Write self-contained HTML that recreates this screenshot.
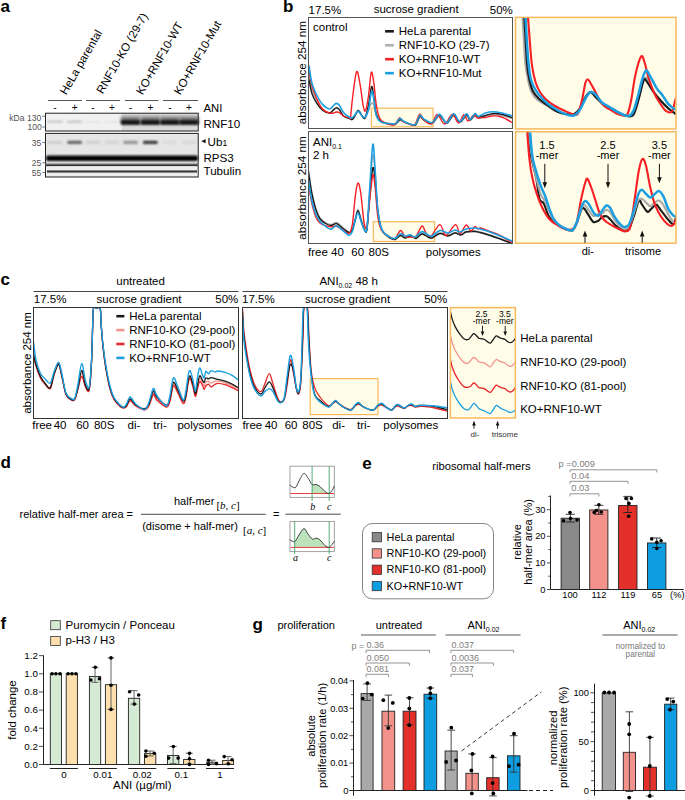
<!DOCTYPE html>
<html><head><meta charset="utf-8"><style>
html,body{margin:0;padding:0;background:#fff;width:685px;height:800px;overflow:hidden}
svg{display:block;font-family:"Liberation Sans",sans-serif}
</style></head><body>
<svg width="685" height="800" viewBox="0 0 685 800">
<text x="0.5" y="12.3" font-size="17" text-anchor="start" fill="#000" font-weight="bold" font-family="Liberation Sans" >a</text>
<text x="0" y="0" font-size="11.5" text-anchor="start" fill="#000" font-weight="normal" font-family="Liberation Sans" transform="translate(66.3,95.4) rotate(-60)">HeLa parental</text>
<text x="0" y="0" font-size="11.5" text-anchor="start" fill="#000" font-weight="normal" font-family="Liberation Sans" transform="translate(102.8,94.4) rotate(-60)">RNF10-KO (29-7)</text>
<text x="0" y="0" font-size="11.5" text-anchor="start" fill="#000" font-weight="normal" font-family="Liberation Sans" transform="translate(142.6,95.4) rotate(-60)">KO+RNF10-WT</text>
<text x="0" y="0" font-size="11.5" text-anchor="start" fill="#000" font-weight="normal" font-family="Liberation Sans" transform="translate(180.3,95.4) rotate(-60)">KO+RNF10-Mut</text>
<line x1="48" y1="100.5" x2="82" y2="100.5" stroke="#555" stroke-width="1" />
<line x1="86" y1="100.5" x2="120" y2="100.5" stroke="#555" stroke-width="1" />
<line x1="125" y1="100.5" x2="158.5" y2="100.5" stroke="#555" stroke-width="1" />
<line x1="163" y1="100.5" x2="198" y2="100.5" stroke="#555" stroke-width="1" />
<text x="55" y="110.5" font-size="10" text-anchor="middle" fill="#000" font-weight="normal" font-family="Liberation Sans" >-</text>
<text x="74.6" y="110.5" font-size="10" text-anchor="middle" fill="#000" font-weight="normal" font-family="Liberation Sans" >+</text>
<text x="93" y="110.5" font-size="10" text-anchor="middle" fill="#000" font-weight="normal" font-family="Liberation Sans" >-</text>
<text x="112" y="110.5" font-size="10" text-anchor="middle" fill="#000" font-weight="normal" font-family="Liberation Sans" >+</text>
<text x="130.5" y="110.5" font-size="10" text-anchor="middle" fill="#000" font-weight="normal" font-family="Liberation Sans" >-</text>
<text x="150.4" y="110.5" font-size="10" text-anchor="middle" fill="#000" font-weight="normal" font-family="Liberation Sans" >+</text>
<text x="170" y="110.5" font-size="10" text-anchor="middle" fill="#000" font-weight="normal" font-family="Liberation Sans" >-</text>
<text x="189" y="110.5" font-size="10" text-anchor="middle" fill="#000" font-weight="normal" font-family="Liberation Sans" >+</text>
<text x="203.5" y="112.4" font-size="11.3" text-anchor="start" fill="#000" font-weight="normal" font-family="Liberation Sans" >ANI</text>
<defs><filter id="bl" x="-20%" y="-50%" width="140%" height="200%"><feGaussianBlur stdDeviation="0.9"/></filter><filter id="bl2" x="-20%" y="-50%" width="140%" height="200%"><feGaussianBlur stdDeviation="1.6"/></filter><filter id="bl3" x="-20%" y="-80%" width="140%" height="260%"><feGaussianBlur stdDeviation="0.6"/></filter></defs>
<rect x="45.5" y="113.2" width="152.7" height="17.8" fill="#f1f1f1" stroke="none" stroke-width="1" />
<rect x="122" y="113.2" width="76" height="17.8" fill="#d9d9d9" stroke="none" stroke-width="1" />
<rect x="47.5" y="120.5" width="15" height="2.5" fill="#c8c8c8" filter="url(#bl)"/>
<rect x="67.1" y="120.5" width="15" height="2.5" fill="#c8c8c8" filter="url(#bl)"/>
<rect x="85.5" y="121" width="15" height="2" fill="#e4e4e4" filter="url(#bl)"/>
<rect x="104.5" y="121" width="15" height="2" fill="#e4e4e4" filter="url(#bl)"/>
<rect x="120.8" y="116.5" width="19.4" height="5.5" fill="#7a7a7a" filter="url(#bl2)"/>
<rect x="120.8" y="120.2" width="19.4" height="4.6" rx="1" fill="#080808" filter="url(#bl)"/>
<rect x="140.70000000000002" y="116.5" width="19.4" height="5.5" fill="#7a7a7a" filter="url(#bl2)"/>
<rect x="140.70000000000002" y="120.2" width="19.4" height="4.6" rx="1" fill="#080808" filter="url(#bl)"/>
<rect x="160.3" y="116.5" width="19.4" height="5.5" fill="#7a7a7a" filter="url(#bl2)"/>
<rect x="160.3" y="120.2" width="19.4" height="4.6" rx="1" fill="#080808" filter="url(#bl)"/>
<rect x="179.3" y="116.5" width="19.4" height="5.5" fill="#7a7a7a" filter="url(#bl2)"/>
<rect x="179.3" y="120.2" width="19.4" height="4.6" rx="1" fill="#080808" filter="url(#bl)"/>
<rect x="45.5" y="113.2" width="152.7" height="17.8" fill="none" stroke="#222" stroke-width="1" />
<rect x="45.5" y="133.4" width="152.7" height="30.8" fill="#e6e6e6" stroke="none" stroke-width="1" />
<rect x="47.5" y="140.8" width="15" height="3.2" rx="1.5" fill="#cdcdcd" filter="url(#bl)"/>
<rect x="67.1" y="140.8" width="15" height="3.2" rx="1.5" fill="#666666" filter="url(#bl)"/>
<rect x="85.5" y="140.8" width="15" height="3.2" rx="1.5" fill="#d0d0d0" filter="url(#bl)"/>
<rect x="104.5" y="140.8" width="15" height="3.2" rx="1.5" fill="#d4d4d4" filter="url(#bl)"/>
<rect x="123.0" y="140.8" width="15" height="3.2" rx="1.5" fill="#959595" filter="url(#bl)"/>
<rect x="142.9" y="140.8" width="15" height="3.2" rx="1.5" fill="#383838" filter="url(#bl)"/>
<rect x="162.5" y="140.8" width="15" height="3.2" rx="1.5" fill="#dadada" filter="url(#bl)"/>
<rect x="181.5" y="140.8" width="15" height="3.2" rx="1.5" fill="#d8d8d8" filter="url(#bl)"/>
<rect x="46" y="155.5" width="152" height="5.6" rx="2" fill="#050505" filter="url(#bl)"/>
<rect x="45.5" y="133.4" width="152.7" height="30.8" fill="none" stroke="#222" stroke-width="1" />
<rect x="45.5" y="165.6" width="152.7" height="11.4" fill="#eeeeee" stroke="none" stroke-width="1" />
<rect x="47" y="170.4" width="150" height="2.2" fill="#3a3a3a" filter="url(#bl3)"/>
<rect x="45.5" y="165.6" width="152.7" height="11.4" fill="none" stroke="#222" stroke-width="1" />
<text x="9.3" y="120.6" font-size="8.6" text-anchor="start" fill="#555" font-weight="normal" font-family="Liberation Sans" >kDa 130</text>
<text x="41.8" y="129.6" font-size="8.6" text-anchor="end" fill="#555" font-weight="normal" font-family="Liberation Sans" >100</text>
<text x="41.3" y="145.5" font-size="8.6" text-anchor="end" fill="#555" font-weight="normal" font-family="Liberation Sans" >35</text>
<text x="41.3" y="165.9" font-size="8.6" text-anchor="end" fill="#555" font-weight="normal" font-family="Liberation Sans" >25</text>
<text x="41.3" y="175.6" font-size="8.6" text-anchor="end" fill="#555" font-weight="normal" font-family="Liberation Sans" >55</text>
<line x1="42.3" y1="116.2" x2="45.5" y2="116.2" stroke="#555" stroke-width="0.8" />
<line x1="42.3" y1="127" x2="45.5" y2="127" stroke="#555" stroke-width="0.8" />
<line x1="42.3" y1="142.5" x2="45.5" y2="142.5" stroke="#555" stroke-width="0.8" />
<line x1="42.3" y1="162.8" x2="45.5" y2="162.8" stroke="#555" stroke-width="0.8" />
<line x1="42.3" y1="172.5" x2="45.5" y2="172.5" stroke="#555" stroke-width="0.8" />
<text x="203.5" y="127.5" font-size="11.6" text-anchor="start" fill="#000" font-weight="normal" font-family="Liberation Sans" >RNF10</text>
<path d="M201.3,141.2 L205.6,139.1 L205.6,143.3 Z" fill="#111"/>
<text x="207.6" y="145.5" font-size="11.6" text-anchor="start" fill="#000" font-weight="normal" font-family="Liberation Sans" >Ub<tspan font-size="8.5">1</tspan></text>
<text x="203.5" y="161.5" font-size="11.6" text-anchor="start" fill="#000" font-weight="normal" font-family="Liberation Sans" >RPS3</text>
<text x="203.5" y="175.2" font-size="11.6" text-anchor="start" fill="#000" font-weight="normal" font-family="Liberation Sans" >Tubulin</text>
<text x="283" y="12.3" font-size="17" text-anchor="start" fill="#000" font-weight="bold" font-family="Liberation Sans" >b</text>
<text x="308.6" y="13.9" font-size="11.5" text-anchor="start" fill="#000" font-weight="normal" font-family="Liberation Sans" >17.5%</text>
<text x="458.7" y="13.3" font-size="11.5" text-anchor="end" fill="#000" font-weight="normal" font-family="Liberation Sans" >sucrose gradient</text>
<text x="512.8" y="13.9" font-size="11.5" text-anchor="end" fill="#000" font-weight="normal" font-family="Liberation Sans" >50%</text>
<text x="0" y="0" font-size="11.7" text-anchor="middle" fill="#000" font-weight="normal" font-family="Liberation Sans" transform="translate(305.9,72.7) rotate(-90)">absorbance 254 nm</text>
<text x="0" y="0" font-size="11.7" text-anchor="middle" fill="#000" font-weight="normal" font-family="Liberation Sans" transform="translate(305.9,188) rotate(-90)">absorbance 254 nm</text>
<rect x="515.5" y="17.4" width="160.5" height="111.5" fill="#fffde8" stroke="#f9b85c" stroke-width="1.5" />
<rect x="515.5" y="131.7" width="160.5" height="111.5" fill="#fffde8" stroke="#f9b85c" stroke-width="1.5" />
<rect x="371.4" y="108.2" width="61.7" height="18.6" fill="#fffde8" stroke="#f9b85c" stroke-width="1.2" />
<rect x="373.3" y="221.7" width="61.3" height="19.8" fill="#fffde8" stroke="#f9b85c" stroke-width="1.2" />
<defs><clipPath id="cbt"><rect x="308.6" y="17.4" width="203.8" height="111.2"/></clipPath></defs>
<g clip-path="url(#cbt)">
<path d="M309.00,75.00 C309.50,77.50 310.72,85.67 312.00,90.00 C313.28,94.33 314.95,97.83 316.70,101.00 C318.45,104.17 320.37,107.00 322.50,109.00 C324.63,111.00 327.75,112.75 329.50,113.00 C331.25,113.25 331.87,111.25 333.00,110.50 C334.13,109.75 335.22,108.58 336.30,108.50 C337.38,108.42 338.30,108.75 339.50,110.00 C340.70,111.25 341.85,114.57 343.50,116.00 C345.15,117.43 347.83,118.07 349.40,118.60 C350.97,119.13 351.45,120.38 352.90,119.20 C354.35,118.02 356.55,111.95 358.10,111.50 C359.65,111.05 361.03,115.33 362.20,116.50 C363.37,117.67 364.03,119.58 365.10,118.50 C366.17,117.42 367.52,112.58 368.60,110.00 C369.68,107.42 370.72,103.67 371.60,103.00 C372.48,102.33 373.13,104.00 373.90,106.00 C374.67,108.00 375.03,112.33 376.20,115.00 C377.37,117.67 378.60,120.42 380.90,122.00 C383.20,123.58 387.58,124.08 390.00,124.50 C392.42,124.92 393.73,125.17 395.40,124.50 C397.07,123.83 398.63,120.92 400.00,120.50 C401.37,120.08 401.63,121.25 403.60,122.00 C405.57,122.75 409.75,124.50 411.80,125.00 C413.85,125.50 414.53,126.25 415.90,125.00 C417.27,123.75 418.65,118.25 420.00,117.50 C421.35,116.75 421.97,119.50 424.00,120.50 C426.03,121.50 429.63,124.25 432.20,123.50 C434.77,122.75 437.02,116.00 439.40,116.00 C441.78,116.00 444.12,123.50 446.50,123.50 C448.88,123.50 451.48,116.17 453.70,116.00 C455.92,115.83 457.65,122.50 459.80,122.50 C461.95,122.50 464.90,116.33 466.60,116.00 C468.30,115.67 468.58,120.50 470.00,120.50 C471.42,120.50 473.73,116.42 475.10,116.00 C476.47,115.58 476.48,118.00 478.20,118.00 C479.92,118.00 482.85,116.58 485.40,116.00 C487.95,115.42 490.78,114.58 493.50,114.50 C496.22,114.42 498.62,114.83 501.70,115.50 C504.78,116.17 510.28,118.00 512.00,118.50" fill="none" stroke="#a9a9a9" stroke-width="1.4" stroke-linejoin="round" stroke-linecap="round" />
<path d="M309.00,79.90 C309.50,82.23 310.72,90.02 312.00,93.90 C313.28,97.78 314.95,100.48 316.70,103.20 C318.45,105.92 320.37,108.55 322.50,110.20 C324.63,111.85 327.75,113.10 329.50,113.10 C331.25,113.10 331.87,111.12 333.00,110.20 C334.13,109.28 335.22,107.70 336.30,107.60 C337.38,107.50 338.30,108.20 339.50,109.60 C340.70,111.00 341.85,114.53 343.50,116.00 C345.15,117.47 347.83,117.90 349.40,118.40 C350.97,118.90 351.45,120.32 352.90,119.00 C354.35,117.68 356.55,111.00 358.10,110.50 C359.65,110.00 361.03,114.78 362.20,116.00 C363.37,117.22 364.03,119.73 365.10,117.80 C366.17,115.87 367.52,109.60 368.60,104.40 C369.68,99.20 370.72,87.77 371.60,86.60 C372.48,85.43 373.13,92.88 373.90,97.40 C374.67,101.92 375.03,109.72 376.20,113.70 C377.37,117.68 378.60,119.58 380.90,121.30 C383.20,123.02 387.58,123.55 390.00,124.00 C392.42,124.45 393.73,124.75 395.40,124.00 C397.07,123.25 398.63,119.88 400.00,119.50 C401.37,119.12 401.63,120.82 403.60,121.70 C405.57,122.58 409.75,124.33 411.80,124.80 C413.85,125.27 414.53,125.88 415.90,124.50 C417.27,123.12 418.65,117.25 420.00,116.50 C421.35,115.75 421.97,118.88 424.00,120.00 C426.03,121.12 429.63,124.03 432.20,123.20 C434.77,122.37 437.02,115.03 439.40,115.00 C441.78,114.97 444.12,123.03 446.50,123.00 C448.88,122.97 451.48,114.97 453.70,114.80 C455.92,114.63 457.65,122.00 459.80,122.00 C461.95,122.00 464.90,115.13 466.60,114.80 C468.30,114.47 468.58,120.05 470.00,120.00 C471.42,119.95 473.73,115.00 475.10,114.50 C476.47,114.00 476.48,116.83 478.20,117.00 C479.92,117.17 482.85,116.08 485.40,115.50 C487.95,114.92 490.78,113.72 493.50,113.50 C496.22,113.28 498.62,113.53 501.70,114.20 C504.78,114.87 510.28,116.95 512.00,117.50" fill="none" stroke="#1a1a1a" stroke-width="1.4" stroke-linejoin="round" stroke-linecap="round" />
<path d="M309.00,70.50 C309.50,73.03 310.72,81.03 312.00,85.70 C313.28,90.37 314.95,94.62 316.70,98.50 C318.45,102.38 320.37,106.57 322.50,109.00 C324.63,111.43 327.75,112.42 329.50,113.10 C331.25,113.78 331.87,113.28 333.00,113.10 C334.13,112.92 335.22,112.08 336.30,112.00 C337.38,111.92 338.30,111.93 339.50,112.60 C340.70,113.27 341.85,115.13 343.50,116.00 C345.15,116.87 348.23,117.60 349.40,117.80 C350.57,118.00 349.92,121.00 350.50,117.20 C351.08,113.40 351.88,102.58 352.90,95.00 C353.92,87.42 355.43,73.63 356.60,71.70 C357.77,69.77 358.77,77.57 359.90,83.40 C361.03,89.23 362.43,102.23 363.40,106.70 C364.37,111.17 364.83,112.15 365.70,110.20 C366.57,108.25 367.67,101.32 368.60,95.00 C369.53,88.68 370.42,74.23 371.30,72.30 C372.18,70.37 373.08,78.05 373.90,83.40 C374.72,88.75 375.23,98.57 376.20,104.40 C377.17,110.23 378.23,115.30 379.70,118.40 C381.17,121.50 383.28,121.98 385.00,123.00 C386.72,124.02 388.33,124.25 390.00,124.50 C391.67,124.75 393.42,125.60 395.00,124.50 C396.58,123.40 398.17,118.40 399.50,117.90 C400.83,117.40 401.08,120.38 403.00,121.50 C404.92,122.62 409.00,124.10 411.00,124.60 C413.00,125.10 413.57,126.20 415.00,124.50 C416.43,122.80 418.18,115.23 419.60,114.40 C421.02,113.57 421.52,117.90 423.50,119.50 C425.48,121.10 429.20,124.85 431.50,124.00 C433.80,123.15 435.13,114.40 437.30,114.40 C439.47,114.40 442.00,124.00 444.50,124.00 C447.00,124.00 449.97,114.57 452.30,114.40 C454.63,114.23 456.57,122.93 458.50,123.00 C460.43,123.07 462.32,115.13 463.90,114.80 C465.48,114.47 466.40,120.93 468.00,121.00 C469.60,121.07 471.83,115.70 473.50,115.20 C475.17,114.70 476.08,117.62 478.00,118.00 C479.92,118.38 482.67,117.83 485.00,117.50 C487.33,117.17 489.50,116.17 492.00,116.00 C494.50,115.83 497.67,116.00 500.00,116.50 C502.33,117.00 504.00,118.00 506.00,119.00 C508.00,120.00 511.00,121.92 512.00,122.50" fill="none" stroke="#f71e24" stroke-width="1.4" stroke-linejoin="round" stroke-linecap="round" />
<path d="M309.00,65.80 C309.50,68.73 310.72,78.53 312.00,83.40 C313.28,88.27 314.95,91.50 316.70,95.00 C318.45,98.50 320.37,102.07 322.50,104.40 C324.63,106.73 327.75,108.73 329.50,109.00 C331.25,109.27 331.87,106.93 333.00,106.00 C334.13,105.07 335.22,103.48 336.30,103.40 C337.38,103.32 338.30,103.97 339.50,105.50 C340.70,107.03 341.85,110.65 343.50,112.60 C345.15,114.55 347.83,116.43 349.40,117.20 C350.97,117.97 351.45,118.17 352.90,117.20 C354.35,116.23 356.55,111.60 358.10,111.40 C359.65,111.20 361.03,115.03 362.20,116.00 C363.37,116.97 364.03,118.37 365.10,117.20 C366.17,116.03 367.52,113.28 368.60,109.00 C369.68,104.72 370.72,93.05 371.60,91.50 C372.48,89.95 373.13,95.80 373.90,99.70 C374.67,103.60 375.03,111.20 376.20,114.90 C377.37,118.60 378.60,120.45 380.90,121.90 C383.20,123.35 387.58,123.32 390.00,123.60 C392.42,123.88 393.73,124.45 395.40,123.60 C397.07,122.75 398.63,118.90 400.00,118.50 C401.37,118.10 401.63,120.18 403.60,121.20 C405.57,122.22 409.75,124.13 411.80,124.60 C413.85,125.07 414.53,125.53 415.90,124.00 C417.27,122.47 418.65,116.22 420.00,115.40 C421.35,114.58 421.97,117.90 424.00,119.10 C426.03,120.30 429.63,123.38 432.20,122.60 C434.77,121.82 437.02,114.40 439.40,114.40 C441.78,114.40 444.12,122.70 446.50,122.60 C448.88,122.50 451.48,113.97 453.70,113.80 C455.92,113.63 457.65,121.60 459.80,121.60 C461.95,121.60 464.90,114.15 466.60,113.80 C468.30,113.45 468.58,119.57 470.00,119.50 C471.42,119.43 473.73,113.90 475.10,113.40 C476.47,112.90 476.48,116.57 478.20,116.50 C479.92,116.43 482.85,113.78 485.40,113.00 C487.95,112.22 490.78,111.80 493.50,111.80 C496.22,111.80 498.62,112.33 501.70,113.00 C504.78,113.67 510.28,115.33 512.00,115.80" fill="none" stroke="#1b9fe0" stroke-width="1.6" stroke-linejoin="round" stroke-linecap="round" />
</g>
<defs><clipPath id="cbb"><rect x="308.4" y="131.7" width="204" height="111.2"/></clipPath></defs>
<g clip-path="url(#cbb)">
<path d="M308.50,170.00 C309.07,173.67 310.65,185.50 311.90,192.00 C313.15,198.50 314.63,204.67 316.00,209.00 C317.37,213.33 318.50,215.75 320.10,218.00 C321.70,220.25 323.77,221.42 325.60,222.50 C327.43,223.58 329.27,224.50 331.10,224.50 C332.93,224.50 334.53,221.92 336.60,222.50 C338.67,223.08 341.43,226.42 343.50,228.00 C345.57,229.58 347.52,231.83 349.00,232.00 C350.48,232.17 351.37,231.17 352.40,229.00 C353.43,226.83 354.28,222.25 355.20,219.00 C356.12,215.75 356.98,209.67 357.90,209.50 C358.82,209.33 359.67,214.92 360.70,218.00 C361.73,221.08 363.07,226.25 364.10,228.00 C365.13,229.75 365.98,234.00 366.90,228.50 C367.82,223.00 368.62,207.15 369.60,195.00 C370.58,182.85 371.88,159.43 372.80,155.60 C373.72,151.77 374.25,162.93 375.10,172.00 C375.95,181.07 376.75,200.37 377.90,210.00 C379.05,219.63 379.98,225.22 382.00,229.80 C384.02,234.38 387.83,235.97 390.00,237.50 C392.17,239.03 393.23,239.42 395.00,239.00 C396.77,238.58 398.93,235.25 400.60,235.00 C402.27,234.75 403.27,237.42 405.00,237.50 C406.73,237.58 409.17,235.42 411.00,235.50 C412.83,235.58 414.17,238.33 416.00,238.00 C417.83,237.67 420.00,233.75 422.00,233.50 C424.00,233.25 426.33,235.83 428.00,236.50 C429.67,237.17 430.00,238.08 432.00,237.50 C434.00,236.92 437.33,233.33 440.00,233.00 C442.67,232.67 445.50,235.58 448.00,235.50 C450.50,235.42 452.83,232.67 455.00,232.50 C457.17,232.33 459.17,234.67 461.00,234.50 C462.83,234.33 463.67,232.08 466.00,231.50 C468.33,230.92 472.67,230.92 475.00,231.00 C477.33,231.08 477.50,231.33 480.00,232.00 C482.50,232.67 486.67,233.92 490.00,235.00 C493.33,236.08 496.33,237.17 500.00,238.50 C503.67,239.83 510.00,242.25 512.00,243.00" fill="none" stroke="#a9a9a9" stroke-width="1.4" stroke-linejoin="round" stroke-linecap="round" />
<path d="M308.50,172.00 C309.07,175.67 310.65,187.67 311.90,194.00 C313.15,200.33 314.63,205.83 316.00,210.00 C317.37,214.17 318.50,216.75 320.10,219.00 C321.70,221.25 323.77,222.42 325.60,223.50 C327.43,224.58 329.27,225.47 331.10,225.50 C332.93,225.53 334.53,223.12 336.60,223.70 C338.67,224.28 341.43,227.52 343.50,229.00 C345.57,230.48 347.52,232.43 349.00,232.60 C350.48,232.77 351.37,232.10 352.40,230.00 C353.43,227.90 354.28,223.23 355.20,220.00 C356.12,216.77 356.98,210.77 357.90,210.60 C358.82,210.43 359.67,215.93 360.70,219.00 C361.73,222.07 363.07,227.20 364.10,229.00 C365.13,230.80 365.98,234.97 366.90,229.80 C367.82,224.63 368.62,208.30 369.60,198.00 C370.58,187.70 371.88,171.00 372.80,168.00 C373.72,165.00 374.25,172.67 375.10,180.00 C375.95,187.33 376.75,203.58 377.90,212.00 C379.05,220.42 379.98,226.17 382.00,230.50 C384.02,234.83 387.83,236.50 390.00,238.00 C392.17,239.50 393.23,239.92 395.00,239.50 C396.77,239.08 398.93,235.75 400.60,235.50 C402.27,235.25 403.27,237.92 405.00,238.00 C406.73,238.08 409.17,235.92 411.00,236.00 C412.83,236.08 414.17,238.83 416.00,238.50 C417.83,238.17 420.00,234.25 422.00,234.00 C424.00,233.75 426.33,236.33 428.00,237.00 C429.67,237.67 430.00,238.58 432.00,238.00 C434.00,237.42 437.33,233.83 440.00,233.50 C442.67,233.17 445.50,236.08 448.00,236.00 C450.50,235.92 452.83,233.17 455.00,233.00 C457.17,232.83 459.17,235.17 461.00,235.00 C462.83,234.83 463.67,232.58 466.00,232.00 C468.33,231.42 472.67,231.42 475.00,231.50 C477.33,231.58 477.50,231.83 480.00,232.50 C482.50,233.17 486.67,234.42 490.00,235.50 C493.33,236.58 496.33,237.67 500.00,239.00 C503.67,240.33 510.00,242.75 512.00,243.50" fill="none" stroke="#1a1a1a" stroke-width="1.4" stroke-linejoin="round" stroke-linecap="round" />
<path d="M308.50,184.50 C309.07,187.70 310.65,198.20 311.90,203.70 C313.15,209.20 314.63,214.28 316.00,217.50 C317.37,220.72 318.50,221.63 320.10,223.00 C321.70,224.37 323.77,225.07 325.60,225.70 C327.43,226.33 329.27,226.68 331.10,226.80 C332.93,226.92 334.53,225.78 336.60,226.40 C338.67,227.02 341.43,229.35 343.50,230.50 C345.57,231.65 347.52,234.33 349.00,233.30 C350.48,232.27 351.37,230.37 352.40,224.30 C353.43,218.23 354.28,203.77 355.20,196.90 C356.12,190.03 356.98,183.80 357.90,183.10 C358.82,182.40 359.67,186.05 360.70,192.70 C361.73,199.35 363.07,217.38 364.10,223.00 C365.13,228.62 365.98,230.07 366.90,226.40 C367.82,222.73 368.62,209.58 369.60,201.00 C370.58,192.42 371.88,177.20 372.80,174.90 C373.72,172.60 374.25,180.10 375.10,187.20 C375.95,194.30 376.75,210.20 377.90,217.50 C379.05,224.80 379.98,227.75 382.00,231.00 C384.02,234.25 387.83,235.75 390.00,237.00 C392.17,238.25 393.23,239.58 395.00,238.50 C396.77,237.42 398.93,230.83 400.60,230.50 C402.27,230.17 403.27,235.42 405.00,236.50 C406.73,237.58 409.17,237.00 411.00,237.00 C412.83,237.00 414.17,238.33 416.00,236.50 C417.83,234.67 420.33,226.58 422.00,226.00 C423.67,225.42 424.50,231.33 426.00,233.00 C427.50,234.67 428.73,237.40 431.00,236.00 C433.27,234.60 437.43,225.10 439.60,224.60 C441.77,224.10 442.77,231.27 444.00,233.00 C445.23,234.73 445.10,236.40 447.00,235.00 C448.90,233.60 453.40,225.10 455.40,224.60 C457.40,224.10 458.07,230.60 459.00,232.00 C459.93,233.40 459.78,234.17 461.00,233.00 C462.22,231.83 464.63,225.33 466.30,225.00 C467.97,224.67 469.55,230.75 471.00,231.00 C472.45,231.25 473.83,226.83 475.00,226.50 C476.17,226.17 477.07,228.75 478.00,229.00 C478.93,229.25 478.60,227.58 480.60,228.00 C482.60,228.42 486.77,230.25 490.00,231.50 C493.23,232.75 496.33,233.67 500.00,235.50 C503.67,237.33 510.00,241.33 512.00,242.50" fill="none" stroke="#f71e24" stroke-width="1.4" stroke-linejoin="round" stroke-linecap="round" />
<path d="M308.50,180.40 C309.07,183.83 310.65,195.28 311.90,201.00 C313.15,206.72 314.63,211.27 316.00,214.70 C317.37,218.13 318.50,219.65 320.10,221.60 C321.70,223.55 323.77,225.13 325.60,226.40 C327.43,227.67 329.27,229.32 331.10,229.20 C332.93,229.08 334.53,225.37 336.60,225.70 C338.67,226.03 341.43,229.60 343.50,231.20 C345.57,232.80 347.52,235.30 349.00,235.30 C350.48,235.30 351.37,233.72 352.40,231.20 C353.43,228.68 354.28,223.28 355.20,220.20 C356.12,217.12 356.98,212.70 357.90,212.70 C358.82,212.70 359.67,217.45 360.70,220.20 C361.73,222.95 363.07,227.82 364.10,229.20 C365.13,230.58 365.98,235.03 366.90,228.50 C367.82,221.97 368.62,203.98 369.60,190.00 C370.58,176.02 371.88,148.03 372.80,144.60 C373.72,141.17 374.25,158.40 375.10,169.40 C375.95,180.40 376.75,200.53 377.90,210.60 C379.05,220.67 379.98,225.38 382.00,229.80 C384.02,234.22 387.83,235.65 390.00,237.10 C392.17,238.55 393.23,239.05 395.00,238.50 C396.77,237.95 398.93,234.22 400.60,233.80 C402.27,233.38 403.43,235.82 405.00,236.00 C406.57,236.18 408.33,234.73 410.00,234.90 C411.67,235.07 413.00,237.55 415.00,237.00 C417.00,236.45 419.83,231.95 422.00,231.60 C424.17,231.25 426.33,234.17 428.00,234.90 C429.67,235.63 430.00,236.73 432.00,236.00 C434.00,235.27 437.33,231.00 440.00,230.50 C442.67,230.00 445.50,233.08 448.00,233.00 C450.50,232.92 453.00,230.17 455.00,230.00 C457.00,229.83 458.17,232.17 460.00,232.00 C461.83,231.83 463.50,229.67 466.00,229.00 C468.50,228.33 472.67,228.00 475.00,228.00 C477.33,228.00 477.50,228.33 480.00,229.00 C482.50,229.67 486.67,230.83 490.00,232.00 C493.33,233.17 496.33,234.50 500.00,236.00 C503.67,237.50 510.00,240.17 512.00,241.00" fill="none" stroke="#1b9fe0" stroke-width="1.6" stroke-linejoin="round" stroke-linecap="round" />
</g>
<rect x="308.5" y="17.5" width="204" height="111" fill="none" stroke="#555" stroke-width="1" />
<rect x="308.5" y="131.5" width="204" height="112" fill="none" stroke="#555" stroke-width="1" />
<line x1="385.1" y1="31.3" x2="393.9" y2="31.3" stroke="#1a1a1a" stroke-width="2.6" />
<text x="398.8" y="34.8" font-size="11.5" text-anchor="start" fill="#000" font-weight="normal" font-family="Liberation Sans" >HeLa parental</text>
<line x1="385.1" y1="45.25" x2="393.9" y2="45.25" stroke="#b0b0b0" stroke-width="2.6" />
<text x="398.8" y="48.75" font-size="11.5" text-anchor="start" fill="#000" font-weight="normal" font-family="Liberation Sans" >RNF10-KO (29-7)</text>
<line x1="385.1" y1="59.2" x2="393.9" y2="59.2" stroke="#f71e24" stroke-width="2.6" />
<text x="398.8" y="62.7" font-size="11.5" text-anchor="start" fill="#000" font-weight="normal" font-family="Liberation Sans" >KO+RNF10-WT</text>
<line x1="385.1" y1="73.14999999999999" x2="393.9" y2="73.14999999999999" stroke="#1b9fe0" stroke-width="2.6" />
<text x="398.8" y="76.64999999999999" font-size="11.5" text-anchor="start" fill="#000" font-weight="normal" font-family="Liberation Sans" >KO+RNF10-Mut</text>
<text x="313" y="30.7" font-size="11.5" text-anchor="start" fill="#000" font-weight="normal" font-family="Liberation Sans" >control</text>
<text x="313" y="145.7" font-size="11.5" text-anchor="start" fill="#000" font-weight="normal" font-family="Liberation Sans" >ANI<tspan font-size="7" dy="3.6">0.1</tspan></text>
<text x="313" y="159" font-size="11.5" text-anchor="start" fill="#000" font-weight="normal" font-family="Liberation Sans" >2 h</text>
<text x="308" y="255.5" font-size="11.5" text-anchor="start" fill="#000" font-weight="normal" font-family="Liberation Sans" >free</text>
<text x="331" y="255.5" font-size="11.5" text-anchor="start" fill="#000" font-weight="normal" font-family="Liberation Sans" >40</text>
<text x="351.3" y="255.5" font-size="11.5" text-anchor="start" fill="#000" font-weight="normal" font-family="Liberation Sans" >60</text>
<text x="368.5" y="255.5" font-size="11.5" text-anchor="start" fill="#000" font-weight="normal" font-family="Liberation Sans" >80S</text>
<text x="425.8" y="255.5" font-size="11.5" text-anchor="start" fill="#000" font-weight="normal" font-family="Liberation Sans" >polysomes</text>
<defs><clipPath id="czt"><rect x="516.3" y="18.1" width="159" height="110.1"/></clipPath></defs>
<g clip-path="url(#czt)">
<path d="M521.50,10.00 C521.67,11.23 522.08,11.90 522.50,17.40 C522.92,22.90 523.50,35.07 524.00,43.00 C524.50,50.93 524.83,58.83 525.50,65.00 C526.17,71.17 527.00,75.50 528.00,80.00 C529.00,84.50 530.00,88.75 531.50,92.00 C533.00,95.25 534.58,97.33 537.00,99.50 C539.42,101.67 542.83,103.08 546.00,105.00 C549.17,106.92 552.53,109.50 556.00,111.00 C559.47,112.50 563.80,113.40 566.80,114.00 C569.80,114.60 571.85,115.35 574.00,114.60 C576.15,113.85 577.78,112.35 579.70,109.50 C581.62,106.65 583.70,100.33 585.50,97.50 C587.30,94.67 588.83,92.67 590.50,92.50 C592.17,92.33 593.55,94.75 595.50,96.50 C597.45,98.25 599.88,101.17 602.20,103.00 C604.52,104.83 607.00,106.08 609.40,107.50 C611.80,108.92 614.20,110.25 616.60,111.50 C619.00,112.75 621.65,114.25 623.80,115.00 C625.95,115.75 627.83,116.33 629.50,116.00 C631.17,115.67 632.37,115.58 633.80,113.00 C635.23,110.42 636.65,105.33 638.10,100.50 C639.55,95.67 641.27,87.82 642.50,84.00 C643.73,80.18 644.58,78.18 645.50,77.60 C646.42,77.02 646.58,78.10 648.00,80.50 C649.42,82.90 651.80,88.58 654.00,92.00 C656.20,95.42 658.80,98.25 661.20,101.00 C663.60,103.75 665.93,106.33 668.40,108.50 C670.87,110.67 674.73,113.08 676.00,114.00" fill="none" stroke="#a9a9a9" stroke-width="2.1" stroke-linejoin="round" stroke-linecap="round" />
<path d="M523.50,10.00 C523.63,11.23 523.92,11.77 524.30,17.40 C524.68,23.03 525.32,35.82 525.80,43.80 C526.28,51.78 526.60,59.32 527.20,65.30 C527.80,71.28 528.43,75.38 529.40,79.70 C530.37,84.02 531.45,88.08 533.00,91.20 C534.55,94.32 536.18,96.00 538.70,98.40 C541.22,100.80 544.87,103.32 548.10,105.60 C551.33,107.88 554.98,110.67 558.10,112.10 C561.22,113.53 564.15,113.85 566.80,114.20 C569.45,114.55 571.85,115.15 574.00,114.20 C576.15,113.25 577.78,111.37 579.70,108.50 C581.62,105.63 583.70,99.75 585.50,97.00 C587.30,94.25 588.83,92.00 590.50,92.00 C592.17,92.00 593.55,95.08 595.50,97.00 C597.45,98.92 599.88,101.75 602.20,103.50 C604.52,105.25 607.00,106.17 609.40,107.50 C611.80,108.83 614.20,110.25 616.60,111.50 C619.00,112.75 621.65,114.18 623.80,115.00 C625.95,115.82 627.83,116.53 629.50,116.40 C631.17,116.27 632.37,116.72 633.80,114.20 C635.23,111.68 636.65,106.33 638.10,101.30 C639.55,96.27 641.42,87.72 642.50,84.00 C643.58,80.28 643.77,79.23 644.60,79.00 C645.43,78.77 645.93,80.32 647.50,82.60 C649.07,84.88 651.72,89.58 654.00,92.70 C656.28,95.82 658.80,98.67 661.20,101.30 C663.60,103.93 665.93,106.35 668.40,108.50 C670.87,110.65 674.73,113.25 676.00,114.20" fill="none" stroke="#1a1a1a" stroke-width="2.1" stroke-linejoin="round" stroke-linecap="round" />
<path d="M527.00,10.00 C527.17,11.23 527.50,11.77 528.00,17.40 C528.50,23.03 529.33,35.82 530.00,43.80 C530.67,51.78 531.08,58.93 532.00,65.30 C532.92,71.67 534.17,77.55 535.50,82.00 C536.83,86.45 538.25,89.08 540.00,92.00 C541.75,94.92 543.50,97.17 546.00,99.50 C548.50,101.83 551.83,104.08 555.00,106.00 C558.17,107.92 561.83,109.58 565.00,111.00 C568.17,112.42 571.83,114.08 574.00,114.50 C576.17,114.92 576.67,115.92 578.00,113.50 C579.33,111.08 580.75,105.17 582.00,100.00 C583.25,94.83 584.50,85.92 585.50,82.50 C586.50,79.08 587.08,79.25 588.00,79.50 C588.92,79.75 589.75,81.92 591.00,84.00 C592.25,86.08 593.63,88.63 595.50,92.00 C597.37,95.37 599.88,101.33 602.20,104.20 C604.52,107.07 607.00,107.65 609.40,109.20 C611.80,110.75 614.20,112.42 616.60,113.50 C619.00,114.58 622.00,115.58 623.80,115.70 C625.60,115.82 626.20,116.60 627.40,114.20 C628.60,111.80 629.68,107.77 631.00,101.30 C632.32,94.83 633.63,82.83 635.30,75.40 C636.97,67.97 639.45,58.85 641.00,56.70 C642.55,54.55 643.40,59.15 644.60,62.50 C645.80,65.85 646.63,71.77 648.20,76.80 C649.77,81.83 652.08,88.38 654.00,92.70 C655.92,97.02 657.78,99.72 659.70,102.70 C661.62,105.68 663.47,109.12 665.50,110.60 C667.53,112.08 670.32,113.15 671.90,111.60 C673.48,110.05 674.15,104.07 675.00,101.30 C675.85,98.53 676.67,96.05 677.00,95.00" fill="none" stroke="#f71e24" stroke-width="2.1" stroke-linejoin="round" stroke-linecap="round" />
<path d="M524.50,10.00 C524.67,11.23 525.08,11.77 525.50,17.40 C525.92,23.03 526.47,35.82 527.00,43.80 C527.53,51.78 528.03,59.32 528.70,65.30 C529.37,71.28 529.95,75.75 531.00,79.70 C532.05,83.65 533.50,86.28 535.00,89.00 C536.50,91.72 537.83,93.50 540.00,96.00 C542.17,98.50 545.00,101.58 548.00,104.00 C551.00,106.42 554.87,108.73 558.00,110.50 C561.13,112.27 564.13,113.77 566.80,114.60 C569.47,115.43 571.85,116.27 574.00,115.50 C576.15,114.73 577.78,112.83 579.70,110.00 C581.62,107.17 583.70,101.53 585.50,98.50 C587.30,95.47 588.83,92.47 590.50,91.80 C592.17,91.13 593.55,92.68 595.50,94.50 C597.45,96.32 599.88,100.62 602.20,102.70 C604.52,104.78 607.00,105.55 609.40,107.00 C611.80,108.45 614.20,110.07 616.60,111.40 C619.00,112.73 621.65,114.28 623.80,115.00 C625.95,115.72 627.83,116.55 629.50,115.70 C631.17,114.85 632.37,113.27 633.80,109.90 C635.23,106.53 636.65,100.77 638.10,95.50 C639.55,90.23 641.17,82.48 642.50,78.30 C643.83,74.12 644.90,70.88 646.10,70.40 C647.30,69.92 647.92,72.40 649.70,75.40 C651.48,78.40 654.65,85.05 656.80,88.40 C658.95,91.75 660.67,92.87 662.60,95.50 C664.53,98.13 666.37,101.92 668.40,104.20 C670.43,106.48 673.37,108.23 674.80,109.20 C676.23,110.17 676.63,109.87 677.00,110.00" fill="none" stroke="#1b9fe0" stroke-width="2.5" stroke-linejoin="round" stroke-linecap="round" />
</g>
<defs><clipPath id="czb"><rect x="516.3" y="132.4" width="159" height="110.2"/></clipPath></defs>
<g clip-path="url(#czb)">
<path d="M527.00,120.00 C527.17,121.95 527.50,126.70 528.00,131.70 C528.50,136.70 529.28,145.02 530.00,150.00 C530.72,154.98 531.20,156.55 532.30,161.60 C533.40,166.65 535.40,174.07 536.60,180.30 C537.80,186.53 538.30,195.15 539.50,199.00 C540.70,202.85 542.37,200.75 543.80,203.40 C545.23,206.05 546.67,212.03 548.10,214.90 C549.53,217.77 550.48,218.82 552.40,220.60 C554.32,222.38 557.20,224.12 559.60,225.60 C562.00,227.08 564.65,228.68 566.80,229.50 C568.95,230.32 570.83,231.58 572.50,230.50 C574.17,229.42 575.35,226.42 576.80,223.00 C578.25,219.58 580.00,212.43 581.20,210.00 C582.40,207.57 582.80,207.58 584.00,208.40 C585.20,209.22 586.83,212.63 588.40,214.90 C589.97,217.17 591.70,221.05 593.40,222.00 C595.10,222.95 597.13,221.43 598.60,220.60 C600.07,219.77 600.88,217.72 602.20,217.00 C603.52,216.28 605.18,215.93 606.50,216.30 C607.82,216.67 608.67,217.77 610.10,219.20 C611.53,220.63 613.30,223.23 615.10,224.90 C616.90,226.57 619.22,228.23 620.90,229.20 C622.58,230.17 623.77,230.93 625.20,230.70 C626.63,230.47 628.07,230.20 629.50,227.80 C630.93,225.40 632.23,220.85 633.80,216.30 C635.37,211.75 637.58,202.53 638.90,200.50 C640.22,198.47 640.50,202.43 641.70,204.10 C642.90,205.77 645.02,209.18 646.10,210.50 C647.18,211.82 647.48,212.12 648.20,212.00 C648.92,211.88 649.32,210.88 650.40,209.80 C651.48,208.72 653.63,206.33 654.70,205.50 C655.77,204.67 656.08,204.43 656.80,204.80 C657.52,205.17 657.92,206.27 659.00,207.70 C660.08,209.13 661.73,211.37 663.30,213.40 C664.87,215.43 666.72,218.10 668.40,219.90 C670.08,221.70 672.13,224.68 673.40,224.20 C674.67,223.72 675.57,218.20 676.00,217.00" fill="none" stroke="#1a1a1a" stroke-width="2.1" stroke-linejoin="round" stroke-linecap="round" />
<path d="M528.00,120.00 C528.17,121.95 528.50,126.70 529.00,131.70 C529.50,136.70 530.33,144.78 531.00,150.00 C531.67,155.22 532.00,157.83 533.00,163.00 C534.00,168.17 535.67,175.67 537.00,181.00 C538.33,186.33 539.67,191.67 541.00,195.00 C542.33,198.33 543.67,198.33 545.00,201.00 C546.33,203.67 547.67,208.00 549.00,211.00 C550.33,214.00 551.23,216.57 553.00,219.00 C554.77,221.43 557.30,223.80 559.60,225.60 C561.90,227.40 564.65,228.98 566.80,229.80 C568.95,230.62 570.83,231.63 572.50,230.50 C574.17,229.37 575.35,226.58 576.80,223.00 C578.25,219.42 579.92,212.00 581.20,209.00 C582.48,206.00 583.30,204.83 584.50,205.00 C585.70,205.17 586.92,208.17 588.40,210.00 C589.88,211.83 591.70,215.33 593.40,216.00 C595.10,216.67 597.13,214.43 598.60,214.00 C600.07,213.57 600.88,214.10 602.20,213.40 C603.52,212.70 605.18,210.03 606.50,209.80 C607.82,209.57 608.67,210.20 610.10,212.00 C611.53,213.80 613.30,218.08 615.10,220.60 C616.90,223.12 619.22,225.67 620.90,227.10 C622.58,228.53 623.77,229.32 625.20,229.20 C626.63,229.08 628.07,229.03 629.50,226.40 C630.93,223.77 632.37,217.72 633.80,213.40 C635.23,209.08 636.78,202.95 638.10,200.50 C639.42,198.05 640.37,198.35 641.70,198.70 C643.03,199.05 644.65,201.35 646.10,202.60 C647.55,203.85 648.97,206.20 650.40,206.20 C651.83,206.20 653.27,203.55 654.70,202.60 C656.13,201.65 657.57,200.13 659.00,200.50 C660.43,200.87 661.73,202.40 663.30,204.80 C664.87,207.20 666.72,212.03 668.40,214.90 C670.08,217.77 672.13,220.57 673.40,222.00 C674.67,223.43 675.57,223.25 676.00,223.50" fill="none" stroke="#a9a9a9" stroke-width="2.1" stroke-linejoin="round" stroke-linecap="round" />
<path d="M526.50,120.00 C526.62,121.95 526.72,125.23 527.20,131.70 C527.68,138.17 528.55,151.17 529.40,158.80 C530.25,166.43 531.10,171.75 532.30,177.50 C533.50,183.25 534.93,188.27 536.60,193.30 C538.27,198.33 540.15,203.38 542.30,207.70 C544.45,212.02 546.87,216.22 549.50,219.20 C552.13,222.18 555.47,223.93 558.10,225.60 C560.73,227.27 562.90,228.60 565.30,229.20 C567.70,229.80 570.58,230.40 572.50,229.20 C574.42,228.00 575.35,227.03 576.80,222.00 C578.25,216.97 579.75,205.70 581.20,199.00 C582.65,192.30 584.43,185.15 585.50,181.80 C586.57,178.45 586.65,177.95 587.60,178.90 C588.55,179.85 589.88,183.90 591.20,187.50 C592.52,191.10 594.27,196.67 595.50,200.50 C596.73,204.33 597.48,207.63 598.60,210.50 C599.72,213.37 600.88,215.78 602.20,217.70 C603.52,219.62 604.35,220.43 606.50,222.00 C608.65,223.57 612.70,225.77 615.10,227.10 C617.50,228.43 619.22,229.28 620.90,230.00 C622.58,230.72 623.77,231.53 625.20,231.40 C626.63,231.27 628.42,231.23 629.50,229.20 C630.58,227.17 630.73,224.95 631.70,219.20 C632.67,213.45 634.10,202.85 635.30,194.70 C636.50,186.55 637.70,176.28 638.90,170.30 C640.10,164.32 641.30,159.52 642.50,158.80 C643.70,158.08 644.90,161.68 646.10,166.00 C647.30,170.32 648.38,178.72 649.70,184.70 C651.02,190.68 652.57,197.35 654.00,201.90 C655.43,206.45 656.63,208.88 658.30,212.00 C659.97,215.12 662.08,218.33 664.00,220.60 C665.92,222.87 668.23,224.88 669.80,225.60 C671.37,226.32 672.37,226.00 673.40,224.90 C674.43,223.80 675.57,219.98 676.00,219.00" fill="none" stroke="#f71e24" stroke-width="2.1" stroke-linejoin="round" stroke-linecap="round" />
<path d="M529.50,120.00 C529.60,121.95 529.63,125.72 530.10,131.70 C530.57,137.68 531.22,149.00 532.30,155.90 C533.38,162.80 535.17,168.07 536.60,173.10 C538.03,178.13 539.47,182.25 540.90,186.10 C542.33,189.95 543.77,192.37 545.20,196.20 C546.63,200.03 548.07,205.27 549.50,209.10 C550.93,212.93 552.12,216.45 553.80,219.20 C555.48,221.95 557.43,223.93 559.60,225.60 C561.77,227.27 564.65,228.47 566.80,229.20 C568.95,229.93 570.83,231.20 572.50,230.00 C574.17,228.80 575.35,225.72 576.80,222.00 C578.25,218.28 579.87,211.17 581.20,207.70 C582.53,204.23 583.60,201.92 584.80,201.20 C586.00,200.48 586.85,201.37 588.40,203.40 C589.95,205.43 592.40,211.37 594.10,213.40 C595.80,215.43 597.25,216.08 598.60,215.60 C599.95,215.12 600.88,212.18 602.20,210.50 C603.52,208.82 605.18,205.97 606.50,205.50 C607.82,205.03 608.67,205.67 610.10,207.70 C611.53,209.73 613.30,214.83 615.10,217.70 C616.90,220.57 619.22,223.33 620.90,224.90 C622.58,226.47 623.77,227.33 625.20,227.10 C626.63,226.87 628.07,226.27 629.50,223.50 C630.93,220.73 632.37,215.30 633.80,210.50 C635.23,205.70 636.78,198.17 638.10,194.70 C639.42,191.23 640.37,189.82 641.70,189.70 C643.03,189.58 644.65,192.68 646.10,194.00 C647.55,195.32 648.97,197.60 650.40,197.60 C651.83,197.60 653.27,195.08 654.70,194.00 C656.13,192.92 657.57,190.73 659.00,191.10 C660.43,191.47 661.73,193.20 663.30,196.20 C664.87,199.20 666.72,205.87 668.40,209.10 C670.08,212.33 672.13,214.40 673.40,215.60 C674.67,216.80 675.57,216.18 676.00,216.30" fill="none" stroke="#1b9fe0" stroke-width="2.5" stroke-linejoin="round" stroke-linecap="round" />
</g>
<text x="547" y="148.7" font-size="11" text-anchor="middle" fill="#000" font-weight="normal" font-family="Liberation Sans" >1.5</text>
<text x="547" y="158.8" font-size="11" text-anchor="middle" fill="#000" font-weight="normal" font-family="Liberation Sans" >-mer</text>
<line x1="544.8" y1="163.8" x2="544.8" y2="183.2" stroke="#111" stroke-width="1" />
<path d="M544.8,188.2 l-2.3,-6 l4.6,0 z" fill="#111"/>
<text x="608" y="148.7" font-size="11" text-anchor="middle" fill="#000" font-weight="normal" font-family="Liberation Sans" >2.5</text>
<text x="608" y="158.8" font-size="11" text-anchor="middle" fill="#000" font-weight="normal" font-family="Liberation Sans" >-mer</text>
<line x1="608" y1="163.8" x2="608" y2="183.2" stroke="#111" stroke-width="1" />
<path d="M608,188.2 l-2.3,-6 l4.6,0 z" fill="#111"/>
<text x="659.4" y="148.7" font-size="11" text-anchor="middle" fill="#000" font-weight="normal" font-family="Liberation Sans" >3.5</text>
<text x="659.4" y="158.8" font-size="11" text-anchor="middle" fill="#000" font-weight="normal" font-family="Liberation Sans" >-mer</text>
<line x1="659.4" y1="163.8" x2="659.4" y2="178.2" stroke="#111" stroke-width="1" />
<path d="M659.4,183.2 l-2.3,-6 l4.6,0 z" fill="#111"/>
<line x1="585" y1="242.8" x2="585" y2="235" stroke="#111" stroke-width="1" />
<path d="M585,230.5 l-2.3,6 l4.6,0 z" fill="#111"/>
<line x1="642.2" y1="242.8" x2="642.2" y2="235" stroke="#111" stroke-width="1" />
<path d="M642.2,230.5 l-2.3,6 l4.6,0 z" fill="#111"/>
<text x="587.8" y="255" font-size="11" text-anchor="middle" fill="#000" font-weight="normal" font-family="Liberation Sans" >di-</text>
<text x="643" y="255" font-size="11" text-anchor="middle" fill="#000" font-weight="normal" font-family="Liberation Sans" >trisome</text>
<text x="0.5" y="285.3" font-size="17" text-anchor="start" fill="#000" font-weight="bold" font-family="Liberation Sans" >c</text>
<text x="140.6" y="284.8" font-size="11.5" text-anchor="middle" fill="#000" font-weight="normal" font-family="Liberation Sans" >untreated</text>
<text x="348.6" y="284.8" font-size="11.5" text-anchor="middle" fill="#000" font-weight="normal" font-family="Liberation Sans" >ANI<tspan font-size="7" dy="3.2">0.02</tspan><tspan dy="-3.2"> 48 h</tspan></text>
<line x1="33.5" y1="291.5" x2="238.5" y2="291.5" stroke="#444" stroke-width="1" />
<line x1="242.5" y1="291.5" x2="447.5" y2="291.5" stroke="#444" stroke-width="1" />
<text x="33.8" y="303.3" font-size="11.5" text-anchor="start" fill="#000" font-weight="normal" font-family="Liberation Sans" >17.5%</text>
<text x="139.05" y="303.3" font-size="11.5" text-anchor="middle" fill="#000" font-weight="normal" font-family="Liberation Sans" >sucrose gradient</text>
<text x="238.3" y="303.3" font-size="11.5" text-anchor="end" fill="#000" font-weight="normal" font-family="Liberation Sans" >50%</text>
<text x="242" y="303.3" font-size="11.5" text-anchor="start" fill="#000" font-weight="normal" font-family="Liberation Sans" >17.5%</text>
<text x="347.6" y="303.3" font-size="11.5" text-anchor="middle" fill="#000" font-weight="normal" font-family="Liberation Sans" >sucrose gradient</text>
<text x="447.2" y="303.3" font-size="11.5" text-anchor="end" fill="#000" font-weight="normal" font-family="Liberation Sans" >50%</text>
<text x="0" y="0" font-size="11.5" text-anchor="middle" fill="#000" font-weight="normal" font-family="Liberation Sans" transform="translate(31,363) rotate(-90)">absorbance 254 nm</text>
<rect x="310.2" y="378.6" width="67.8" height="36" fill="#fffde8" stroke="#f9b85c" stroke-width="1.2" />
<rect x="450.4" y="307.6" width="65" height="110.4" fill="#fffde8" stroke="#f9b85c" stroke-width="1.5" />
<defs><clipPath id="cc1"><rect x="33.8" y="307.8" width="204.5" height="110.2"/></clipPath></defs>
<g clip-path="url(#cc1)">
<path d="M33.50,352.00 C33.92,354.00 34.83,359.83 36.00,364.00 C37.17,368.17 39.00,373.75 40.50,377.00 C42.00,380.25 43.38,381.67 45.00,383.50 C46.62,385.33 48.70,389.75 50.20,388.00 C51.70,386.25 52.62,377.17 54.00,373.00 C55.38,368.83 57.25,362.92 58.50,363.00 C59.75,363.08 60.25,368.28 61.50,373.50 C62.75,378.72 64.25,389.85 66.00,394.30 C67.75,398.75 70.50,399.45 72.00,400.20 C73.50,400.95 74.00,401.00 75.00,398.80 C76.00,396.60 76.88,391.30 78.00,387.00 C79.12,382.70 80.45,373.17 81.70,373.00 C82.95,372.83 84.25,383.33 85.50,386.00 C86.75,388.67 88.20,392.92 89.20,389.00 C90.20,385.08 90.92,373.17 91.50,362.50 C92.08,351.83 92.37,334.02 92.70,325.00 C93.03,315.98 92.82,311.17 93.50,308.40 C94.18,305.63 95.68,308.40 96.80,308.40 C97.92,308.40 99.47,305.63 100.20,308.40 C100.93,311.17 100.82,319.48 101.20,325.00 C101.58,330.52 101.87,335.25 102.50,341.50 C103.13,347.75 103.83,355.00 105.00,362.50 C106.17,370.00 108.00,380.42 109.50,386.50 C111.00,392.58 112.25,395.75 114.00,399.00 C115.75,402.25 118.38,404.53 120.00,406.00 C121.62,407.47 122.62,407.88 123.70,407.80 C124.78,407.72 125.42,406.80 126.50,405.50 C127.58,404.20 128.65,400.00 130.20,400.00 C131.75,400.00 133.42,403.92 135.80,405.50 C138.18,407.08 142.32,409.58 144.50,409.50 C146.68,409.42 147.43,407.75 148.90,405.00 C150.37,402.25 151.98,394.08 153.30,393.00 C154.62,391.92 154.62,396.25 156.80,398.50 C158.98,400.75 164.20,406.33 166.40,406.50 C168.60,406.67 168.83,403.25 170.00,399.50 C171.17,395.75 172.10,385.33 173.40,384.00 C174.70,382.67 176.18,388.50 177.80,391.50 C179.42,394.50 181.78,401.08 183.10,402.00 C184.42,402.92 184.68,401.08 185.70,397.00 C186.72,392.92 188.03,379.58 189.20,377.50 C190.37,375.42 191.68,381.58 192.70,384.50 C193.72,387.42 194.52,394.58 195.30,395.00 C196.08,395.42 196.67,389.75 197.40,387.00 C198.13,384.25 198.88,379.25 199.70,378.50 C200.52,377.75 201.57,381.25 202.30,382.50 C203.03,383.75 203.52,386.08 204.10,386.00 C204.68,385.92 205.07,382.75 205.80,382.00 C206.53,381.25 207.62,381.33 208.50,381.50 C209.38,381.67 210.08,383.00 211.10,383.00 C212.12,383.00 213.43,381.80 214.60,381.50 C215.77,381.20 216.35,380.98 218.10,381.20 C219.85,381.42 222.77,382.03 225.10,382.80 C227.43,383.57 229.78,384.77 232.10,385.80 C234.42,386.83 237.85,388.47 239.00,389.00" fill="none" stroke="#f4948c" stroke-width="1.3" stroke-linejoin="round" stroke-linecap="round" />
<path d="M33.50,355.50 C33.92,357.25 34.83,362.25 36.00,366.00 C37.17,369.75 39.00,375.00 40.50,378.00 C42.00,381.00 43.38,382.25 45.00,384.00 C46.62,385.75 48.70,390.00 50.20,388.50 C51.70,387.00 52.62,379.13 54.00,375.00 C55.38,370.87 57.25,363.70 58.50,363.70 C59.75,363.70 60.25,369.87 61.50,375.00 C62.75,380.13 64.25,390.27 66.00,394.50 C67.75,398.73 70.50,399.65 72.00,400.40 C73.50,401.15 74.00,400.98 75.00,399.00 C76.00,397.02 76.88,392.25 78.00,388.50 C79.12,384.75 80.45,376.75 81.70,376.50 C82.95,376.25 84.25,384.75 85.50,387.00 C86.75,389.25 88.20,394.00 89.20,390.00 C90.20,386.00 90.92,373.83 91.50,363.00 C92.08,352.17 92.37,334.10 92.70,325.00 C93.03,315.90 92.82,311.17 93.50,308.40 C94.18,305.63 95.68,308.40 96.80,308.40 C97.92,308.40 99.47,305.63 100.20,308.40 C100.93,311.17 100.82,319.40 101.20,325.00 C101.58,330.60 101.87,335.67 102.50,342.00 C103.13,348.33 103.83,355.50 105.00,363.00 C106.17,370.50 108.00,380.92 109.50,387.00 C111.00,393.08 112.25,396.25 114.00,399.50 C115.75,402.75 118.38,405.08 120.00,406.50 C121.62,407.92 122.62,408.00 123.70,408.00 C124.78,408.00 125.42,407.70 126.50,406.50 C127.58,405.30 128.65,400.88 130.20,400.80 C131.75,400.72 133.42,404.47 135.80,406.00 C138.18,407.53 142.32,410.00 144.50,410.00 C146.68,410.00 147.43,408.55 148.90,406.00 C150.37,403.45 151.98,395.70 153.30,394.70 C154.62,393.70 154.62,397.95 156.80,400.00 C158.98,402.05 164.20,406.83 166.40,407.00 C168.60,407.17 168.83,404.52 170.00,401.00 C171.17,397.48 172.10,387.23 173.40,385.90 C174.70,384.57 176.18,390.08 177.80,393.00 C179.42,395.92 181.78,402.57 183.10,403.40 C184.42,404.23 184.68,402.08 185.70,398.00 C186.72,393.92 188.03,380.90 189.20,378.90 C190.37,376.90 191.68,383.08 192.70,386.00 C193.72,388.92 194.52,395.90 195.30,396.40 C196.08,396.90 196.67,391.48 197.40,389.00 C198.13,386.52 198.88,382.17 199.70,381.50 C200.52,380.83 201.57,383.68 202.30,385.00 C203.03,386.32 203.52,389.23 204.10,389.40 C204.68,389.57 205.07,386.87 205.80,386.00 C206.53,385.13 207.62,384.03 208.50,384.20 C209.38,384.37 210.08,386.95 211.10,387.00 C212.12,387.05 213.43,385.12 214.60,384.50 C215.77,383.88 216.35,383.27 218.10,383.30 C219.85,383.33 222.77,383.97 225.10,384.70 C227.43,385.43 229.78,386.65 232.10,387.70 C234.42,388.75 237.85,390.45 239.00,391.00" fill="none" stroke="#e8262a" stroke-width="1.3" stroke-linejoin="round" stroke-linecap="round" />
<path d="M33.50,354.00 C33.92,355.75 34.83,360.75 36.00,364.50 C37.17,368.25 39.00,373.38 40.50,376.50 C42.00,379.62 43.38,381.33 45.00,383.20 C46.62,385.07 48.70,389.20 50.20,387.70 C51.70,386.20 52.62,378.07 54.00,374.20 C55.38,370.33 57.25,364.53 58.50,364.50 C59.75,364.47 60.25,369.08 61.50,374.00 C62.75,378.92 64.25,389.67 66.00,394.00 C67.75,398.33 70.50,399.25 72.00,400.00 C73.50,400.75 74.00,400.50 75.00,398.50 C76.00,396.50 76.88,392.67 78.00,388.00 C79.12,383.33 80.45,370.92 81.70,370.50 C82.95,370.08 84.25,382.50 85.50,385.50 C86.75,388.50 88.20,392.42 89.20,388.50 C90.20,384.58 90.92,372.58 91.50,362.00 C92.08,351.42 92.37,333.93 92.70,325.00 C93.03,316.07 92.82,311.17 93.50,308.40 C94.18,305.63 95.68,308.40 96.80,308.40 C97.92,308.40 99.47,305.63 100.20,308.40 C100.93,311.17 100.82,319.57 101.20,325.00 C101.58,330.43 101.87,334.83 102.50,341.00 C103.13,347.17 103.83,354.50 105.00,362.00 C106.17,369.50 108.00,379.92 109.50,386.00 C111.00,392.08 112.25,395.25 114.00,398.50 C115.75,401.75 118.38,404.00 120.00,405.50 C121.62,407.00 122.62,407.50 123.70,407.50 C124.78,407.50 125.42,406.92 126.50,405.50 C127.58,404.08 128.65,399.08 130.20,399.00 C131.75,398.92 133.42,403.38 135.80,405.00 C138.18,406.62 142.32,408.87 144.50,408.70 C146.68,408.53 147.43,406.92 148.90,404.00 C150.37,401.08 151.98,392.37 153.30,391.20 C154.62,390.03 154.62,394.67 156.80,397.00 C158.98,399.33 164.20,405.03 166.40,405.20 C168.60,405.37 168.83,401.80 170.00,398.00 C171.17,394.20 172.10,383.73 173.40,382.40 C174.70,381.07 176.18,386.93 177.80,390.00 C179.42,393.07 181.78,399.80 183.10,400.80 C184.42,401.80 184.68,400.08 185.70,396.00 C186.72,391.92 188.03,378.47 189.20,376.30 C190.37,374.13 191.68,380.08 192.70,383.00 C193.72,385.92 194.52,393.47 195.30,393.80 C196.08,394.13 196.67,387.98 197.40,385.00 C198.13,382.02 198.88,376.73 199.70,375.90 C200.52,375.07 201.57,378.92 202.30,380.00 C203.03,381.08 203.52,382.73 204.10,382.40 C204.68,382.07 205.07,378.58 205.80,378.00 C206.53,377.42 207.62,378.95 208.50,378.90 C209.38,378.85 209.50,377.62 211.10,377.70 C212.70,377.78 215.77,378.82 218.10,379.40 C220.43,379.98 222.77,380.40 225.10,381.20 C227.43,382.00 229.78,383.07 232.10,384.20 C234.42,385.33 237.85,387.37 239.00,388.00" fill="none" stroke="#1a1a1a" stroke-width="1.3" stroke-linejoin="round" stroke-linecap="round" />
<path d="M33.50,342.00 C33.92,345.00 34.83,354.75 36.00,360.00 C37.17,365.25 39.00,370.38 40.50,373.50 C42.00,376.62 43.38,377.08 45.00,378.70 C46.62,380.32 48.70,384.32 50.20,383.20 C51.70,382.08 52.62,375.50 54.00,372.00 C55.38,368.50 57.25,362.20 58.50,362.20 C59.75,362.20 60.25,366.87 61.50,372.00 C62.75,377.13 64.25,388.50 66.00,393.00 C67.75,397.50 70.50,398.25 72.00,399.00 C73.50,399.75 74.00,400.00 75.00,397.50 C76.00,395.00 76.88,389.63 78.00,384.00 C79.12,378.37 80.45,364.20 81.70,363.70 C82.95,363.20 84.25,377.12 85.50,381.00 C86.75,384.88 88.20,390.50 89.20,387.00 C90.20,383.50 90.92,370.33 91.50,360.00 C92.08,349.67 92.37,333.60 92.70,325.00 C93.03,316.40 92.82,311.17 93.50,308.40 C94.18,305.63 95.68,308.40 96.80,308.40 C97.92,308.40 99.47,305.63 100.20,308.40 C100.93,311.17 100.82,319.73 101.20,325.00 C101.58,330.27 101.87,334.17 102.50,340.00 C103.13,345.83 103.83,352.67 105.00,360.00 C106.17,367.33 108.00,377.75 109.50,384.00 C111.00,390.25 112.25,394.00 114.00,397.50 C115.75,401.00 118.38,403.38 120.00,405.00 C121.62,406.62 122.62,407.37 123.70,407.20 C124.78,407.03 125.42,405.70 126.50,404.00 C127.58,402.30 128.65,396.95 130.20,397.00 C131.75,397.05 133.42,402.20 135.80,404.30 C138.18,406.40 142.32,409.88 144.50,409.60 C146.68,409.32 147.43,406.12 148.90,402.60 C150.37,399.08 151.98,389.68 153.30,388.50 C154.62,387.32 154.62,392.58 156.80,395.50 C158.98,398.42 164.20,406.00 166.40,406.00 C168.60,406.00 168.83,400.17 170.00,395.50 C171.17,390.83 172.10,379.45 173.40,378.00 C174.70,376.55 176.18,383.13 177.80,386.80 C179.42,390.47 181.78,399.13 183.10,400.00 C184.42,400.87 184.68,396.83 185.70,392.00 C186.72,387.17 188.03,373.18 189.20,371.00 C190.37,368.82 191.68,375.53 192.70,378.90 C193.72,382.27 194.52,391.35 195.30,391.20 C196.08,391.05 196.67,381.88 197.40,378.00 C198.13,374.12 198.88,368.48 199.70,367.90 C200.52,367.32 201.57,372.82 202.30,374.50 C203.03,376.18 203.52,378.52 204.10,378.00 C204.68,377.48 205.07,372.12 205.80,371.40 C206.53,370.68 207.62,373.82 208.50,373.70 C209.38,373.58 210.08,371.00 211.10,370.70 C212.12,370.40 213.43,371.85 214.60,371.90 C215.77,371.95 216.35,370.92 218.10,371.00 C219.85,371.08 222.77,371.67 225.10,372.40 C227.43,373.13 229.78,374.05 232.10,375.40 C234.42,376.75 237.85,379.65 239.00,380.50" fill="none" stroke="#1b9fe0" stroke-width="1.4" stroke-linejoin="round" stroke-linecap="round" />
</g>
<rect x="33.5" y="307.5" width="205" height="111" fill="none" stroke="#333" stroke-width="1" />
<defs><clipPath id="cc2"><rect x="242" y="307.6" width="205.2" height="110.4"/></clipPath></defs>
<g clip-path="url(#cc2)">
<path d="M242.50,309.00 C242.72,312.50 243.08,322.75 243.80,330.00 C244.52,337.25 245.68,345.50 246.80,352.50 C247.92,359.50 249.13,366.50 250.50,372.00 C251.87,377.50 253.25,382.23 255.00,385.50 C256.75,388.77 259.37,391.85 261.00,391.60 C262.63,391.35 263.42,387.00 264.80,384.00 C266.18,381.00 267.93,373.60 269.30,373.60 C270.67,373.60 271.63,380.00 273.00,384.00 C274.37,388.00 276.25,394.60 277.50,397.60 C278.75,400.60 279.37,401.77 280.50,402.00 C281.63,402.23 283.17,402.00 284.30,399.00 C285.43,396.00 286.30,390.50 287.30,384.00 C288.30,377.50 289.30,362.00 290.30,360.00 C291.30,358.00 292.30,367.23 293.30,372.00 C294.30,376.77 295.42,384.97 296.30,388.60 C297.18,392.23 297.85,394.80 298.60,393.80 C299.35,392.80 300.07,391.98 300.80,382.60 C301.53,373.22 302.47,349.88 303.00,337.50 C303.53,325.12 303.23,313.17 304.00,308.30 C304.77,303.43 306.77,303.43 307.60,308.30 C308.43,313.17 308.38,326.88 309.00,337.50 C309.62,348.12 310.30,363.48 311.30,372.00 C312.30,380.52 313.55,384.43 315.00,388.60 C316.45,392.77 318.33,394.60 320.00,397.00 C321.67,399.40 323.50,401.50 325.00,403.00 C326.50,404.50 327.83,405.83 329.00,406.00 C330.17,406.17 330.93,404.75 332.00,404.00 C333.07,403.25 334.40,401.67 335.40,401.50 C336.40,401.33 336.57,402.08 338.00,403.00 C339.43,403.92 341.83,405.92 344.00,407.00 C346.17,408.08 349.17,409.67 351.00,409.50 C352.83,409.33 353.72,406.92 355.00,406.00 C356.28,405.08 357.53,404.00 358.70,404.00 C359.87,404.00 360.45,405.17 362.00,406.00 C363.55,406.83 366.08,408.33 368.00,409.00 C369.92,409.67 371.83,410.50 373.50,410.00 C375.17,409.50 376.58,406.83 378.00,406.00 C379.42,405.17 380.67,404.75 382.00,405.00 C383.33,405.25 384.40,406.67 386.00,407.50 C387.60,408.33 390.10,410.08 391.60,410.00 C393.10,409.92 393.93,407.67 395.00,407.00 C396.07,406.33 396.50,405.75 398.00,406.00 C399.50,406.25 402.33,408.50 404.00,408.50 C405.67,408.50 406.70,406.50 408.00,406.00 C409.30,405.50 410.63,405.33 411.80,405.50 C412.97,405.67 413.80,406.83 415.00,407.00 C416.20,407.17 417.33,406.58 419.00,406.50 C420.67,406.42 422.33,406.25 425.00,406.50 C427.67,406.75 431.17,407.17 435.00,408.00 C438.83,408.83 445.83,410.92 448.00,411.50" fill="none" stroke="#e8262a" stroke-width="1.3" stroke-linejoin="round" stroke-linecap="round" />
<path d="M242.50,312.00 C242.72,315.83 243.08,327.50 243.80,335.00 C244.52,342.50 245.68,350.25 246.80,357.00 C247.92,363.75 249.13,370.33 250.50,375.50 C251.87,380.67 253.25,384.92 255.00,388.00 C256.75,391.08 259.37,394.00 261.00,394.00 C262.63,394.00 263.42,390.03 264.80,388.00 C266.18,385.97 267.93,381.80 269.30,381.80 C270.67,381.80 271.63,385.05 273.00,388.00 C274.37,390.95 276.25,397.08 277.50,399.50 C278.75,401.92 279.37,402.67 280.50,402.50 C281.63,402.33 283.17,402.25 284.30,398.50 C285.43,394.75 286.30,385.67 287.30,380.00 C288.30,374.33 289.30,366.17 290.30,364.50 C291.30,362.83 292.30,366.08 293.30,370.00 C294.30,373.92 295.42,384.17 296.30,388.00 C297.18,391.83 297.85,394.33 298.60,393.00 C299.35,391.67 300.15,388.83 300.80,380.00 C301.45,371.17 302.02,351.95 302.50,340.00 C302.98,328.05 302.90,313.58 303.70,308.30 C304.50,303.02 306.47,303.43 307.30,308.30 C308.13,313.17 308.15,327.55 308.70,337.50 C309.25,347.45 309.88,359.75 310.60,368.00 C311.32,376.25 312.18,382.33 313.00,387.00 C313.82,391.67 314.33,393.75 315.50,396.00 C316.67,398.25 318.42,399.00 320.00,400.50 C321.58,402.00 323.50,404.00 325.00,405.00 C326.50,406.00 327.83,406.67 329.00,406.50 C330.17,406.33 330.93,404.92 332.00,404.00 C333.07,403.08 334.40,401.17 335.40,401.00 C336.40,400.83 336.57,401.92 338.00,403.00 C339.43,404.08 341.83,406.33 344.00,407.50 C346.17,408.67 349.17,410.33 351.00,410.00 C352.83,409.67 353.72,406.67 355.00,405.50 C356.28,404.33 357.53,402.92 358.70,403.00 C359.87,403.08 360.45,405.00 362.00,406.00 C363.55,407.00 366.08,408.33 368.00,409.00 C369.92,409.67 371.83,410.58 373.50,410.00 C375.17,409.42 376.58,406.50 378.00,405.50 C379.42,404.50 380.67,403.75 382.00,404.00 C383.33,404.25 384.40,406.00 386.00,407.00 C387.60,408.00 390.10,410.08 391.60,410.00 C393.10,409.92 393.93,407.33 395.00,406.50 C396.07,405.67 396.50,404.75 398.00,405.00 C399.50,405.25 402.33,407.92 404.00,408.00 C405.67,408.08 406.70,406.08 408.00,405.50 C409.30,404.92 410.63,404.33 411.80,404.50 C412.97,404.67 413.80,406.33 415.00,406.50 C416.20,406.67 417.33,405.67 419.00,405.50 C420.67,405.33 422.33,405.33 425.00,405.50 C427.67,405.67 431.17,405.75 435.00,406.50 C438.83,407.25 445.83,409.42 448.00,410.00" fill="none" stroke="#1a1a1a" stroke-width="1.3" stroke-linejoin="round" stroke-linecap="round" />
<path d="M242.50,315.00 C242.72,319.00 243.08,331.50 243.80,339.00 C244.52,346.50 245.68,353.50 246.80,360.00 C247.92,366.50 249.13,373.00 250.50,378.00 C251.87,383.00 253.25,387.00 255.00,390.00 C256.75,393.00 259.37,395.73 261.00,396.00 C262.63,396.27 263.42,392.83 264.80,391.60 C266.18,390.37 267.93,388.60 269.30,388.60 C270.67,388.60 271.63,389.60 273.00,391.60 C274.37,393.60 276.25,398.73 277.50,400.60 C278.75,402.47 279.37,403.30 280.50,402.80 C281.63,402.30 283.17,402.23 284.30,397.60 C285.43,392.97 286.30,382.02 287.30,375.00 C288.30,367.98 289.30,357.00 290.30,355.50 C291.30,354.00 292.30,360.75 293.30,366.00 C294.30,371.25 295.42,382.73 296.30,387.00 C297.18,391.27 297.85,393.10 298.60,391.60 C299.35,390.10 300.23,385.77 300.80,378.00 C301.37,370.23 301.57,356.62 302.00,345.00 C302.43,333.38 302.57,314.42 303.40,308.30 C304.23,302.18 306.20,303.43 307.00,308.30 C307.80,313.17 307.70,328.12 308.20,337.50 C308.70,346.88 309.28,356.58 310.00,364.60 C310.72,372.62 311.67,380.37 312.50,385.60 C313.33,390.83 313.75,393.27 315.00,396.00 C316.25,398.73 318.33,400.42 320.00,402.00 C321.67,403.58 323.50,404.67 325.00,405.50 C326.50,406.33 327.83,407.25 329.00,407.00 C330.17,406.75 330.93,405.08 332.00,404.00 C333.07,402.92 334.40,400.67 335.40,400.50 C336.40,400.33 336.57,401.83 338.00,403.00 C339.43,404.17 341.83,406.33 344.00,407.50 C346.17,408.67 349.17,410.42 351.00,410.00 C352.83,409.58 353.72,406.25 355.00,405.00 C356.28,403.75 357.53,402.33 358.70,402.50 C359.87,402.67 360.45,404.92 362.00,406.00 C363.55,407.08 366.08,408.33 368.00,409.00 C369.92,409.67 371.83,410.67 373.50,410.00 C375.17,409.33 376.58,406.12 378.00,405.00 C379.42,403.88 380.67,402.97 382.00,403.30 C383.33,403.63 384.40,405.88 386.00,407.00 C387.60,408.12 390.10,410.17 391.60,410.00 C393.10,409.83 393.93,406.92 395.00,406.00 C396.07,405.08 396.50,404.17 398.00,404.50 C399.50,404.83 402.33,407.83 404.00,408.00 C405.67,408.17 406.70,406.17 408.00,405.50 C409.30,404.83 410.63,403.83 411.80,404.00 C412.97,404.17 413.80,406.25 415.00,406.50 C416.20,406.75 417.33,405.67 419.00,405.50 C420.67,405.33 422.33,405.42 425.00,405.50 C427.67,405.58 431.17,405.58 435.00,406.00 C438.83,406.42 445.83,407.67 448.00,408.00" fill="none" stroke="#1b9fe0" stroke-width="1.4" stroke-linejoin="round" stroke-linecap="round" />
</g>
<rect x="242.5" y="307.5" width="205" height="111" fill="none" stroke="#333" stroke-width="1" />
<text x="32.2" y="429.3" font-size="11.5" text-anchor="start" fill="#000" font-weight="normal" font-family="Liberation Sans" >free</text>
<text x="53.7" y="429.3" font-size="11.5" text-anchor="start" fill="#000" font-weight="normal" font-family="Liberation Sans" >40</text>
<text x="76.2" y="429.3" font-size="11.5" text-anchor="start" fill="#000" font-weight="normal" font-family="Liberation Sans" >60</text>
<text x="93.9" y="429.3" font-size="11.5" text-anchor="start" fill="#000" font-weight="normal" font-family="Liberation Sans" >80S</text>
<text x="127.6" y="429.3" font-size="11.5" text-anchor="start" fill="#000" font-weight="normal" font-family="Liberation Sans" >di-</text>
<text x="153.3" y="429.3" font-size="11.5" text-anchor="start" fill="#000" font-weight="normal" font-family="Liberation Sans" >tri-</text>
<text x="177.4" y="429.3" font-size="11.5" text-anchor="start" fill="#000" font-weight="normal" font-family="Liberation Sans" >polysomes</text>
<text x="242.4" y="429.3" font-size="11.5" text-anchor="start" fill="#000" font-weight="normal" font-family="Liberation Sans" >free</text>
<text x="264.7" y="429.3" font-size="11.5" text-anchor="start" fill="#000" font-weight="normal" font-family="Liberation Sans" >40</text>
<text x="284.7" y="429.3" font-size="11.5" text-anchor="start" fill="#000" font-weight="normal" font-family="Liberation Sans" >60</text>
<text x="302.3" y="429.3" font-size="11.5" text-anchor="start" fill="#000" font-weight="normal" font-family="Liberation Sans" >80S</text>
<text x="332.2" y="429.3" font-size="11.5" text-anchor="start" fill="#000" font-weight="normal" font-family="Liberation Sans" >di-</text>
<text x="357" y="429.3" font-size="11.5" text-anchor="start" fill="#000" font-weight="normal" font-family="Liberation Sans" >tri-</text>
<text x="383.3" y="429.3" font-size="11.5" text-anchor="start" fill="#000" font-weight="normal" font-family="Liberation Sans" >polysomes</text>
<line x1="116.3" y1="316.2" x2="124.4" y2="316.2" stroke="#1a1a1a" stroke-width="2.6" />
<text x="129.2" y="320.0" font-size="11.5" text-anchor="start" fill="#000" font-weight="normal" font-family="Liberation Sans" >HeLa parental</text>
<line x1="116.3" y1="330.09999999999997" x2="124.4" y2="330.09999999999997" stroke="#f4948c" stroke-width="2.6" />
<text x="129.2" y="333.9" font-size="11.5" text-anchor="start" fill="#000" font-weight="normal" font-family="Liberation Sans" >RNF10-KO (29-pool)</text>
<line x1="116.3" y1="344.0" x2="124.4" y2="344.0" stroke="#e8262a" stroke-width="2.6" />
<text x="129.2" y="347.8" font-size="11.5" text-anchor="start" fill="#000" font-weight="normal" font-family="Liberation Sans" >RNF10-KO (81-pool)</text>
<line x1="116.3" y1="357.9" x2="124.4" y2="357.9" stroke="#1b9fe0" stroke-width="2.6" />
<text x="129.2" y="361.7" font-size="11.5" text-anchor="start" fill="#000" font-weight="normal" font-family="Liberation Sans" >KO+RNF10-WT</text>
<defs><clipPath id="cc3"><rect x="451" y="308.3" width="63.9" height="109"/></clipPath></defs>
<g clip-path="url(#cc3)">
<path d="M450.50,312.20 C450.80,313.40 451.52,317.00 452.30,319.40 C453.08,321.80 454.00,324.22 455.20,326.60 C456.40,328.98 458.07,331.67 459.50,333.70 C460.93,335.73 462.37,337.83 463.80,338.80 C465.23,339.77 466.90,339.87 468.10,339.50 C469.30,339.13 470.08,337.57 471.00,336.60 C471.92,335.63 472.77,333.93 473.60,333.70 C474.43,333.47 475.12,334.43 476.00,335.20 C476.88,335.97 477.93,337.70 478.90,338.30 C479.87,338.90 480.83,338.60 481.80,338.80 C482.77,339.00 483.75,339.02 484.70,339.50 C485.65,339.98 486.55,341.10 487.50,341.70 C488.45,342.30 489.43,343.47 490.40,343.10 C491.37,342.73 492.33,340.70 493.30,339.50 C494.27,338.30 495.25,336.27 496.20,335.90 C497.15,335.53 498.05,336.87 499.00,337.30 C499.95,337.73 500.93,338.18 501.90,338.50 C502.87,338.82 503.83,338.67 504.80,339.20 C505.77,339.73 506.75,341.12 507.70,341.70 C508.65,342.28 509.55,342.83 510.50,342.70 C511.45,342.57 512.48,341.77 513.40,340.90 C514.32,340.03 515.57,338.07 516.00,337.50" fill="none" stroke="#1a1a1a" stroke-width="1.3" stroke-linejoin="round" stroke-linecap="round" />
<path d="M450.50,335.80 C450.80,337.00 451.52,340.60 452.30,343.00 C453.08,345.40 454.00,347.82 455.20,350.20 C456.40,352.58 458.07,355.27 459.50,357.30 C460.93,359.33 462.37,361.43 463.80,362.40 C465.23,363.37 466.90,363.47 468.10,363.10 C469.30,362.73 470.08,361.17 471.00,360.20 C471.92,359.23 472.77,357.53 473.60,357.30 C474.43,357.07 475.12,358.03 476.00,358.80 C476.88,359.57 477.93,361.30 478.90,361.90 C479.87,362.50 480.83,362.20 481.80,362.40 C482.77,362.60 483.75,362.62 484.70,363.10 C485.65,363.58 486.55,364.70 487.50,365.30 C488.45,365.90 489.43,367.07 490.40,366.70 C491.37,366.33 492.33,364.30 493.30,363.10 C494.27,361.90 495.25,359.87 496.20,359.50 C497.15,359.13 498.05,360.47 499.00,360.90 C499.95,361.33 500.93,361.78 501.90,362.10 C502.87,362.42 503.83,362.27 504.80,362.80 C505.77,363.33 506.75,364.72 507.70,365.30 C508.65,365.88 509.55,366.43 510.50,366.30 C511.45,366.17 512.48,365.37 513.40,364.50 C514.32,363.63 515.57,361.67 516.00,361.10" fill="none" stroke="#f4948c" stroke-width="1.3" stroke-linejoin="round" stroke-linecap="round" />
<path d="M450.50,360.00 C450.80,361.20 451.52,364.80 452.30,367.20 C453.08,369.60 454.00,372.02 455.20,374.40 C456.40,376.78 458.07,379.47 459.50,381.50 C460.93,383.53 462.37,385.63 463.80,386.60 C465.23,387.57 466.90,387.42 468.10,387.30 C469.30,387.18 470.08,386.62 471.00,385.90 C471.92,385.18 472.77,383.23 473.60,383.00 C474.43,382.77 475.12,383.73 476.00,384.50 C476.88,385.27 477.93,387.00 478.90,387.60 C479.87,388.20 480.83,387.90 481.80,388.10 C482.77,388.30 483.75,388.32 484.70,388.80 C485.65,389.28 486.55,390.40 487.50,391.00 C488.45,391.60 489.43,392.77 490.40,392.40 C491.37,392.03 492.33,390.00 493.30,388.80 C494.27,387.60 495.25,385.57 496.20,385.20 C497.15,384.83 498.05,386.17 499.00,386.60 C499.95,387.03 500.93,387.48 501.90,387.80 C502.87,388.12 503.83,387.97 504.80,388.50 C505.77,389.03 506.75,390.42 507.70,391.00 C508.65,391.58 509.55,392.13 510.50,392.00 C511.45,391.87 512.48,391.07 513.40,390.20 C514.32,389.33 515.57,387.37 516.00,386.80" fill="none" stroke="#e8262a" stroke-width="1.3" stroke-linejoin="round" stroke-linecap="round" />
<path d="M450.50,381.90 C450.80,383.17 451.52,387.07 452.30,389.50 C453.08,391.93 454.00,394.17 455.20,396.50 C456.40,398.83 458.07,401.50 459.50,403.50 C460.93,405.50 462.37,407.43 463.80,408.50 C465.23,409.57 466.90,410.15 468.10,409.90 C469.30,409.65 470.08,408.07 471.00,407.00 C471.92,405.93 472.77,403.83 473.60,403.50 C474.43,403.17 475.12,404.17 476.00,405.00 C476.88,405.83 477.93,407.67 478.90,408.50 C479.87,409.33 480.83,409.58 481.80,410.00 C482.77,410.42 483.75,410.58 484.70,411.00 C485.65,411.42 486.55,412.08 487.50,412.50 C488.45,412.92 489.43,414.00 490.40,413.50 C491.37,413.00 492.33,410.83 493.30,409.50 C494.27,408.17 495.25,405.92 496.20,405.50 C497.15,405.08 498.05,406.42 499.00,407.00 C499.95,407.58 500.93,408.50 501.90,409.00 C502.87,409.50 503.83,409.58 504.80,410.00 C505.77,410.42 506.75,411.08 507.70,411.50 C508.65,411.92 509.55,412.50 510.50,412.50 C511.45,412.50 512.48,412.00 513.40,411.50 C514.32,411.00 515.57,409.83 516.00,409.50" fill="none" stroke="#1b9fe0" stroke-width="1.3" stroke-linejoin="round" stroke-linecap="round" />
</g>
<text x="481.5" y="316.5" font-size="8.5" text-anchor="middle" fill="#000" font-weight="normal" font-family="Liberation Sans" >2.5</text>
<text x="481.5" y="323.7" font-size="8.5" text-anchor="middle" fill="#000" font-weight="normal" font-family="Liberation Sans" >-mer</text>
<text x="504.8" y="316.5" font-size="8.5" text-anchor="middle" fill="#000" font-weight="normal" font-family="Liberation Sans" >3.5</text>
<text x="504.8" y="323.7" font-size="8.5" text-anchor="middle" fill="#000" font-weight="normal" font-family="Liberation Sans" >-mer</text>
<line x1="482.5" y1="325.8" x2="482.5" y2="332" stroke="#111" stroke-width="0.9" />
<path d="M482.5,336 l-1.8,-4.6 l3.6,0 z" fill="#111"/>
<line x1="505.2" y1="325.8" x2="505.2" y2="332" stroke="#111" stroke-width="0.9" />
<path d="M505.2,336 l-1.8,-4.6 l3.6,0 z" fill="#111"/>
<line x1="474" y1="428.7" x2="474" y2="424.5" stroke="#111" stroke-width="0.9" />
<path d="M474,420.8 l-1.8,4.6 l3.6,0 z" fill="#111"/>
<line x1="497.6" y1="428.7" x2="497.6" y2="424.5" stroke="#111" stroke-width="0.9" />
<path d="M497.6,420.8 l-1.8,4.6 l3.6,0 z" fill="#111"/>
<text x="475" y="436.8" font-size="8" text-anchor="middle" fill="#333" font-weight="normal" font-family="Liberation Sans" >di-</text>
<text x="504.8" y="436.8" font-size="8" text-anchor="middle" fill="#333" font-weight="normal" font-family="Liberation Sans" >trisome</text>
<text x="520.2" y="342" font-size="11.5" text-anchor="start" fill="#000" font-weight="normal" font-family="Liberation Sans" >HeLa parental</text>
<text x="520.2" y="366.2" font-size="11.5" text-anchor="start" fill="#000" font-weight="normal" font-family="Liberation Sans" >RNF10-KO (29-pool)</text>
<text x="520.2" y="389.7" font-size="11.5" text-anchor="start" fill="#000" font-weight="normal" font-family="Liberation Sans" >RNF10-KO (81-pool)</text>
<text x="520.2" y="413.3" font-size="11.5" text-anchor="start" fill="#000" font-weight="normal" font-family="Liberation Sans" >KO+RNF10-WT</text>
<text x="0.5" y="468.3" font-size="17" text-anchor="start" fill="#000" font-weight="bold" font-family="Liberation Sans" >d</text>
<text x="19.6" y="518.3" font-size="11" text-anchor="start" fill="#000" font-weight="normal" font-family="Liberation Sans" >relative half-mer area =</text>
<line x1="141" y1="514.3" x2="265.7" y2="514.3" stroke="#333" stroke-width="0.9" />
<text x="174" y="505.3" font-size="11" text-anchor="start" fill="#000" font-weight="normal" font-family="Liberation Sans" >half-mer</text>
<text x="216.4" y="509.4" font-size="11" text-anchor="start" fill="#000" font-weight="normal" font-family="Liberation Serif" >[<tspan font-style="italic">b</tspan>, <tspan font-style="italic">c</tspan>]</text>
<text x="142.2" y="529.9" font-size="11" text-anchor="start" fill="#000" font-weight="normal" font-family="Liberation Sans" >(disome + half-mer)</text>
<text x="243" y="533.9" font-size="11" text-anchor="start" fill="#000" font-weight="normal" font-family="Liberation Serif" >[<tspan font-style="italic">a</tspan>, <tspan font-style="italic">c</tspan>]</text>
<text x="273" y="518.3" font-size="11" text-anchor="start" fill="#000" font-weight="normal" font-family="Liberation Sans" >=</text>
<line x1="285.5" y1="514.2" x2="340.7" y2="514.2" stroke="#333" stroke-width="0.9" />
<defs><clipPath id="dm1"><rect x="312.1" y="466.2" width="17.099999999999966" height="27.30000000000001"/></clipPath></defs>
<path d="M290.00,485.20 C290.87,485.63 293.70,488.50 295.20,487.80 C296.70,487.10 297.57,483.40 299.00,481.00 C300.43,478.60 302.30,473.90 303.80,473.40 C305.30,472.90 306.63,476.15 308.00,478.00 C309.37,479.85 310.67,483.42 312.00,484.50 C313.33,485.58 314.67,484.17 316.00,484.50 C317.33,484.83 318.50,485.33 320.00,486.50 C321.50,487.67 323.50,490.33 325.00,491.50 C326.50,492.67 327.83,493.67 329.00,493.50 C330.17,493.33 331.12,491.70 332.00,490.50 C332.88,489.30 333.92,487.00 334.30,486.30 L334.3,493.5 L290,493.5 Z" fill="#bde3bd" stroke="none" clip-path="url(#dm1)"/>
<rect x="290" y="466.2" width="44.30000000000001" height="31.19999999999999" fill="none" stroke="#999" stroke-width="0.9" />
<line x1="290.5" y1="493.5" x2="333.8" y2="493.5" stroke="#e8272b" stroke-width="0.9" />
<path d="M290.00,485.20 C290.87,485.63 293.70,488.50 295.20,487.80 C296.70,487.10 297.57,483.40 299.00,481.00 C300.43,478.60 302.30,473.90 303.80,473.40 C305.30,472.90 306.63,476.15 308.00,478.00 C309.37,479.85 310.67,483.42 312.00,484.50 C313.33,485.58 314.67,484.17 316.00,484.50 C317.33,484.83 318.50,485.33 320.00,486.50 C321.50,487.67 323.50,490.33 325.00,491.50 C326.50,492.67 327.83,493.67 329.00,493.50 C330.17,493.33 331.12,491.70 332.00,490.50 C332.88,489.30 333.92,487.00 334.30,486.30" fill="none" stroke="#1a1a1a" stroke-width="0.8" stroke-linejoin="round" stroke-linecap="round" />
<line x1="312.1" y1="466.2" x2="312.1" y2="501" stroke="#2a9a55" stroke-width="0.8" />
<line x1="329.2" y1="466.2" x2="329.2" y2="501" stroke="#2a9a55" stroke-width="0.8" />
<defs><clipPath id="dm2"><rect x="294.7" y="521.4" width="34.5" height="26.0"/></clipPath></defs>
<path d="M290.00,539.80 C290.78,540.12 293.20,542.50 294.70,541.70 C296.20,540.90 297.45,537.18 299.00,535.00 C300.55,532.82 302.50,528.77 304.00,528.60 C305.50,528.43 306.60,532.25 308.00,534.00 C309.40,535.75 311.07,538.42 312.40,539.10 C313.73,539.78 314.73,537.95 316.00,538.10 C317.27,538.25 318.50,538.77 320.00,540.00 C321.50,541.23 323.50,544.27 325.00,545.50 C326.50,546.73 327.83,547.57 329.00,547.40 C330.17,547.23 331.12,545.52 332.00,544.50 C332.88,543.48 333.92,541.83 334.30,541.30 L334.3,547.4 L290,547.4 Z" fill="#bde3bd" stroke="none" clip-path="url(#dm2)"/>
<rect x="290" y="521.4" width="44.30000000000001" height="30.200000000000045" fill="none" stroke="#999" stroke-width="0.9" />
<line x1="290.5" y1="547.4" x2="333.8" y2="547.4" stroke="#e8272b" stroke-width="0.9" />
<path d="M290.00,539.80 C290.78,540.12 293.20,542.50 294.70,541.70 C296.20,540.90 297.45,537.18 299.00,535.00 C300.55,532.82 302.50,528.77 304.00,528.60 C305.50,528.43 306.60,532.25 308.00,534.00 C309.40,535.75 311.07,538.42 312.40,539.10 C313.73,539.78 314.73,537.95 316.00,538.10 C317.27,538.25 318.50,538.77 320.00,540.00 C321.50,541.23 323.50,544.27 325.00,545.50 C326.50,546.73 327.83,547.57 329.00,547.40 C330.17,547.23 331.12,545.52 332.00,544.50 C332.88,543.48 333.92,541.83 334.30,541.30" fill="none" stroke="#1a1a1a" stroke-width="0.8" stroke-linejoin="round" stroke-linecap="round" />
<line x1="294.7" y1="521.4" x2="294.7" y2="554" stroke="#2a9a55" stroke-width="0.8" />
<line x1="329.2" y1="521.4" x2="329.2" y2="554" stroke="#2a9a55" stroke-width="0.8" />
<text x="312.7" y="509.6" font-size="10" text-anchor="middle" fill="#000" font-weight="normal" font-family="Liberation Serif" font-style="italic">b</text>
<text x="329.2" y="509.6" font-size="10" text-anchor="middle" fill="#000" font-weight="normal" font-family="Liberation Serif" font-style="italic">c</text>
<text x="295.6" y="561.4" font-size="10" text-anchor="middle" fill="#000" font-weight="normal" font-family="Liberation Serif" font-style="italic">a</text>
<text x="329.2" y="561.4" font-size="10" text-anchor="middle" fill="#000" font-weight="normal" font-family="Liberation Serif" font-style="italic">c</text>
<text x="362.3" y="468.7" font-size="17" text-anchor="start" fill="#000" font-weight="bold" font-family="Liberation Sans" >e</text>
<text x="432.3" y="469.5" font-size="11.2" text-anchor="start" fill="#000" font-weight="normal" font-family="Liberation Sans" >ribosomal half-mers</text>
<rect x="362.5" y="523.5" width="131" height="75.3" rx="10" fill="none" stroke="#777" stroke-width="0.9"/>
<rect x="372.2" y="532.5" width="9.3" height="9.3" fill="#898989" stroke="#333" stroke-width="0.8" />
<text x="386.6" y="540.6" font-size="10.8" text-anchor="start" fill="#000" font-weight="normal" font-family="Liberation Sans" >HeLa parental</text>
<rect x="372.2" y="548.8" width="9.3" height="9.3" fill="#f3928b" stroke="#333" stroke-width="0.8" />
<text x="386.6" y="556.9" font-size="10.8" text-anchor="start" fill="#000" font-weight="normal" font-family="Liberation Sans" >RNF10-KO (29-pool)</text>
<rect x="372.2" y="565.1" width="9.3" height="9.3" fill="#e3302a" stroke="#333" stroke-width="0.8" />
<text x="386.6" y="573.2" font-size="10.8" text-anchor="start" fill="#000" font-weight="normal" font-family="Liberation Sans" >RNF10-KO (81-pool)</text>
<rect x="372.2" y="581.4" width="9.3" height="9.3" fill="#0e9de0" stroke="#333" stroke-width="0.8" />
<text x="386.6" y="589.5" font-size="10.8" text-anchor="start" fill="#000" font-weight="normal" font-family="Liberation Sans" >KO+RNF10-WT</text>
<line x1="550.5" y1="495.5" x2="550.5" y2="589.5" stroke="#222" stroke-width="1" />
<line x1="550.5" y1="589.5" x2="683.7" y2="589.5" stroke="#222" stroke-width="1" />
<line x1="547.0" y1="589.5" x2="550.5" y2="589.5" stroke="#222" stroke-width="0.8" />
<text x="545.5" y="592.5" font-size="9.3" text-anchor="end" fill="#000" font-weight="normal" font-family="Liberation Sans" >0</text>
<line x1="548.3" y1="576.2" x2="550.5" y2="576.2" stroke="#222" stroke-width="0.8" />
<line x1="547.0" y1="562.9" x2="550.5" y2="562.9" stroke="#222" stroke-width="0.8" />
<text x="545.5" y="565.9" font-size="9.3" text-anchor="end" fill="#000" font-weight="normal" font-family="Liberation Sans" >10</text>
<line x1="548.3" y1="549.6" x2="550.5" y2="549.6" stroke="#222" stroke-width="0.8" />
<line x1="547.0" y1="536.3" x2="550.5" y2="536.3" stroke="#222" stroke-width="0.8" />
<text x="545.5" y="539.3" font-size="9.3" text-anchor="end" fill="#000" font-weight="normal" font-family="Liberation Sans" >20</text>
<line x1="548.3" y1="523.0" x2="550.5" y2="523.0" stroke="#222" stroke-width="0.8" />
<line x1="547.0" y1="509.7" x2="550.5" y2="509.7" stroke="#222" stroke-width="0.8" />
<text x="545.5" y="512.7" font-size="9.3" text-anchor="end" fill="#000" font-weight="normal" font-family="Liberation Sans" >30</text>
<line x1="548.3" y1="496.4" x2="550.5" y2="496.4" stroke="#222" stroke-width="0.8" />
<rect x="561.1" y="518.212" width="18.399999999999977" height="71.28800000000001" fill="#898989" stroke="#222" stroke-width="0.9" />
<line x1="570.3" y1="514.3" x2="570.3" y2="522" stroke="#222" stroke-width="0.9" />
<line x1="565.8" y1="514.3" x2="574.8" y2="514.3" stroke="#222" stroke-width="0.9" />
<line x1="565.8" y1="522" x2="574.8" y2="522" stroke="#222" stroke-width="0.9" />
<circle cx="570" cy="512.5" r="1.8" fill="#000"/>
<circle cx="563.6" cy="520.9" r="1.8" fill="#000"/>
<circle cx="577" cy="520.1" r="1.8" fill="#000"/>
<circle cx="570.5" cy="518.5" r="1.8" fill="#000"/>
<rect x="589.7" y="509.966" width="18.199999999999932" height="79.53399999999999" fill="#f3928b" stroke="#222" stroke-width="0.9" />
<line x1="598.8" y1="505.3" x2="598.8" y2="514.3" stroke="#222" stroke-width="0.9" />
<line x1="594.3" y1="505.3" x2="603.3" y2="505.3" stroke="#222" stroke-width="0.9" />
<line x1="594.3" y1="514.3" x2="603.3" y2="514.3" stroke="#222" stroke-width="0.9" />
<circle cx="598.9" cy="504.8" r="1.8" fill="#000"/>
<circle cx="596.4" cy="510.5" r="1.8" fill="#000"/>
<circle cx="594.2" cy="512.4" r="1.8" fill="#000"/>
<circle cx="601.3" cy="512" r="1.8" fill="#000"/>
<rect x="618.6" y="505.44399999999996" width="18.399999999999977" height="84.05600000000004" fill="#e3302a" stroke="#222" stroke-width="0.9" />
<line x1="627.8" y1="496.4" x2="627.8" y2="512.5" stroke="#222" stroke-width="0.9" />
<line x1="623.3" y1="496.4" x2="632.3" y2="496.4" stroke="#222" stroke-width="0.9" />
<line x1="623.3" y1="512.5" x2="632.3" y2="512.5" stroke="#222" stroke-width="0.9" />
<circle cx="626" cy="498.5" r="1.8" fill="#000"/>
<circle cx="631.4" cy="498.5" r="1.8" fill="#000"/>
<circle cx="628.9" cy="503.4" r="1.8" fill="#000"/>
<circle cx="628.6" cy="516.2" r="1.8" fill="#000"/>
<rect x="647.5" y="542.95" width="18.399999999999977" height="46.549999999999955" fill="#0e9de0" stroke="#222" stroke-width="0.9" />
<line x1="656.7" y1="538" x2="656.7" y2="547.5" stroke="#222" stroke-width="0.9" />
<line x1="652.2" y1="538" x2="661.2" y2="538" stroke="#222" stroke-width="0.9" />
<line x1="652.2" y1="547.5" x2="661.2" y2="547.5" stroke="#222" stroke-width="0.9" />
<circle cx="651.7" cy="538.9" r="1.8" fill="#000"/>
<circle cx="661.1" cy="540.8" r="1.8" fill="#000"/>
<circle cx="656.8" cy="542.4" r="1.8" fill="#000"/>
<circle cx="656.8" cy="548.5" r="1.8" fill="#000"/>
<text x="570" y="598.2" font-size="9.3" text-anchor="middle" fill="#000" font-weight="normal" font-family="Liberation Sans" >100</text>
<text x="598.9" y="598.2" font-size="9.3" text-anchor="middle" fill="#000" font-weight="normal" font-family="Liberation Sans" >112</text>
<text x="628" y="598.2" font-size="9.3" text-anchor="middle" fill="#000" font-weight="normal" font-family="Liberation Sans" >119</text>
<text x="656.9" y="598.2" font-size="9.3" text-anchor="middle" fill="#000" font-weight="normal" font-family="Liberation Sans" >65</text>
<text x="677.3" y="598.2" font-size="9.3" text-anchor="middle" fill="#000" font-weight="normal" font-family="Liberation Sans" >(%)</text>
<text x="0" y="0" font-size="11" text-anchor="middle" fill="#000" font-weight="normal" font-family="Liberation Sans" transform="translate(521.3,541.9) rotate(-90)">relative</text>
<text x="0" y="0" font-size="11" text-anchor="middle" fill="#000" font-weight="normal" font-family="Liberation Sans" transform="translate(531.5,541.9) rotate(-90)">half-mer area (%)</text>
<text x="558.5" y="467.3" font-size="9.3" text-anchor="start" fill="#808080" font-weight="normal" font-family="Liberation Sans" >p =0.009</text>
<path d="M570,472.40000000000003 L570,469.8 L656.9,469.8 L656.9,472.40000000000003" fill="none" stroke="#888" stroke-width="0.9"/>
<text x="571.3" y="479.3" font-size="9.3" text-anchor="start" fill="#808080" font-weight="normal" font-family="Liberation Sans" >0.04</text>
<path d="M570,483.90000000000003 L570,481.3 L628,481.3 L628,483.90000000000003" fill="none" stroke="#888" stroke-width="0.9"/>
<text x="571.3" y="491.3" font-size="9.3" text-anchor="start" fill="#808080" font-weight="normal" font-family="Liberation Sans" >0.03</text>
<path d="M570,496.40000000000003 L570,493.8 L598.9,493.8 L598.9,496.40000000000003" fill="none" stroke="#888" stroke-width="0.9"/>
<text x="0.5" y="629" font-size="17" text-anchor="start" fill="#000" font-weight="bold" font-family="Liberation Sans" >f</text>
<rect x="50.7" y="620.7" width="9.6" height="9" fill="#d5ead5" stroke="#333" stroke-width="0.8" />
<rect x="50.7" y="636.5" width="9.6" height="9" fill="#fde0ad" stroke="#333" stroke-width="0.8" />
<text x="65.6" y="629.2" font-size="11.5" text-anchor="start" fill="#000" font-weight="normal" font-family="Liberation Sans" >Puromycin / Ponceau</text>
<text x="65.6" y="643.9" font-size="11.5" text-anchor="start" fill="#000" font-weight="normal" font-family="Liberation Sans" >p-H3 / H3</text>
<line x1="43.5" y1="655.3" x2="43.5" y2="764.5" stroke="#222" stroke-width="1" />
<line x1="43.5" y1="764.5" x2="234" y2="764.5" stroke="#222" stroke-width="1" />
<line x1="39.0" y1="764.5" x2="43.5" y2="764.5" stroke="#222" stroke-width="0.8" />
<text x="37.9" y="767.9" font-size="9.8" text-anchor="end" fill="#000" font-weight="normal" font-family="Liberation Sans" >0.0</text>
<line x1="39.0" y1="746.36" x2="43.5" y2="746.36" stroke="#222" stroke-width="0.8" />
<text x="37.9" y="749.76" font-size="9.8" text-anchor="end" fill="#000" font-weight="normal" font-family="Liberation Sans" >0.2</text>
<line x1="39.0" y1="728.22" x2="43.5" y2="728.22" stroke="#222" stroke-width="0.8" />
<text x="37.9" y="731.62" font-size="9.8" text-anchor="end" fill="#000" font-weight="normal" font-family="Liberation Sans" >0.4</text>
<line x1="39.0" y1="710.08" x2="43.5" y2="710.08" stroke="#222" stroke-width="0.8" />
<text x="37.9" y="713.48" font-size="9.8" text-anchor="end" fill="#000" font-weight="normal" font-family="Liberation Sans" >0.6</text>
<line x1="39.0" y1="691.94" x2="43.5" y2="691.94" stroke="#222" stroke-width="0.8" />
<text x="37.9" y="695.34" font-size="9.8" text-anchor="end" fill="#000" font-weight="normal" font-family="Liberation Sans" >0.8</text>
<line x1="39.0" y1="673.8" x2="43.5" y2="673.8" stroke="#222" stroke-width="0.8" />
<text x="37.9" y="677.1999999999999" font-size="9.8" text-anchor="end" fill="#000" font-weight="normal" font-family="Liberation Sans" >1.0</text>
<line x1="39.0" y1="655.66" x2="43.5" y2="655.66" stroke="#222" stroke-width="0.8" />
<text x="37.9" y="659.06" font-size="9.8" text-anchor="end" fill="#000" font-weight="normal" font-family="Liberation Sans" >1.2</text>
<rect x="50.3" y="673.8" width="11.200000000000003" height="90.70000000000005" fill="#d5ead5" stroke="#222" stroke-width="0.9" />
<circle cx="52.1" cy="673.8" r="1.8" fill="#000"/>
<circle cx="55.9" cy="673.8" r="1.8" fill="#000"/>
<circle cx="60" cy="673.8" r="1.8" fill="#000"/>
<rect x="66.2" y="673.8" width="11.200000000000003" height="90.70000000000005" fill="#fde0ad" stroke="#222" stroke-width="0.9" />
<circle cx="68.1" cy="673.8" r="1.8" fill="#000"/>
<circle cx="72" cy="673.8" r="1.8" fill="#000"/>
<circle cx="75.9" cy="673.8" r="1.8" fill="#000"/>
<rect x="89.4" y="676.521" width="11.299999999999997" height="87.97900000000004" fill="#d5ead5" stroke="#222" stroke-width="0.9" />
<line x1="95.05000000000001" y1="667.3" x2="95.05000000000001" y2="682.3" stroke="#555" stroke-width="0.9" />
<line x1="91.55000000000001" y1="667.3" x2="98.55000000000001" y2="667.3" stroke="#555" stroke-width="0.9" />
<line x1="91.55000000000001" y1="682.3" x2="98.55000000000001" y2="682.3" stroke="#555" stroke-width="0.9" />
<circle cx="95.3" cy="667.3" r="1.8" fill="#000"/>
<circle cx="90.9" cy="680" r="1.8" fill="#000"/>
<circle cx="99.4" cy="678.7" r="1.8" fill="#000"/>
<rect x="105.4" y="684.684" width="11.199999999999989" height="79.81600000000003" fill="#fde0ad" stroke="#222" stroke-width="0.9" />
<line x1="111.0" y1="657.9" x2="111.0" y2="709.4" stroke="#555" stroke-width="0.9" />
<line x1="107.5" y1="657.9" x2="114.5" y2="657.9" stroke="#555" stroke-width="0.9" />
<line x1="107.5" y1="709.4" x2="114.5" y2="709.4" stroke="#555" stroke-width="0.9" />
<circle cx="111" cy="657.9" r="1.8" fill="#000"/>
<circle cx="111" cy="685.3" r="1.8" fill="#000"/>
<circle cx="111" cy="709.4" r="1.8" fill="#000"/>
<rect x="128.4" y="698.289" width="11.299999999999983" height="66.21100000000001" fill="#d5ead5" stroke="#222" stroke-width="0.9" />
<line x1="134.05" y1="690.6" x2="134.05" y2="704.1" stroke="#555" stroke-width="0.9" />
<line x1="130.55" y1="690.6" x2="137.55" y2="690.6" stroke="#555" stroke-width="0.9" />
<line x1="130.55" y1="704.1" x2="137.55" y2="704.1" stroke="#555" stroke-width="0.9" />
<circle cx="129.6" cy="691.7" r="1.8" fill="#000"/>
<circle cx="134.3" cy="704.1" r="1.8" fill="#000"/>
<circle cx="138.7" cy="695" r="1.8" fill="#000"/>
<rect x="144.5" y="753.616" width="11.300000000000011" height="10.884000000000015" fill="#fde0ad" stroke="#222" stroke-width="0.9" />
<line x1="150.15" y1="751" x2="150.15" y2="756" stroke="#555" stroke-width="0.9" />
<line x1="146.65" y1="751" x2="153.65" y2="751" stroke="#555" stroke-width="0.9" />
<line x1="146.65" y1="756" x2="153.65" y2="756" stroke="#555" stroke-width="0.9" />
<circle cx="145.9" cy="751" r="1.8" fill="#000"/>
<circle cx="145.9" cy="756.2" r="1.8" fill="#000"/>
<circle cx="154.2" cy="753.2" r="1.8" fill="#000"/>
<rect x="167.5" y="755.43" width="11.300000000000011" height="9.07000000000005" fill="#d5ead5" stroke="#222" stroke-width="0.9" />
<line x1="173.15" y1="746.5" x2="173.15" y2="763.6" stroke="#555" stroke-width="0.9" />
<line x1="169.65" y1="746.5" x2="176.65" y2="746.5" stroke="#555" stroke-width="0.9" />
<line x1="169.65" y1="763.6" x2="176.65" y2="763.6" stroke="#555" stroke-width="0.9" />
<circle cx="173.4" cy="746.5" r="1.8" fill="#000"/>
<circle cx="168.6" cy="758.1" r="1.8" fill="#000"/>
<circle cx="178.1" cy="758.1" r="1.8" fill="#000"/>
<rect x="183.6" y="759.5115" width="11.300000000000011" height="4.988500000000045" fill="#fde0ad" stroke="#222" stroke-width="0.9" />
<line x1="189.25" y1="753.2" x2="189.25" y2="764" stroke="#555" stroke-width="0.9" />
<line x1="185.75" y1="753.2" x2="192.75" y2="753.2" stroke="#555" stroke-width="0.9" />
<line x1="185.75" y1="764" x2="192.75" y2="764" stroke="#555" stroke-width="0.9" />
<circle cx="189.5" cy="753.2" r="1.8" fill="#000"/>
<circle cx="189.5" cy="758.8" r="1.8" fill="#000"/>
<circle cx="189.5" cy="764.4" r="1.8" fill="#000"/>
<rect x="206.6" y="762.2325" width="10.900000000000006" height="2.267500000000041" fill="#d5ead5" stroke="#222" stroke-width="0.9" />
<line x1="212.05" y1="760.2" x2="212.05" y2="764" stroke="#555" stroke-width="0.9" />
<line x1="208.55" y1="760.2" x2="215.55" y2="760.2" stroke="#555" stroke-width="0.9" />
<line x1="208.55" y1="764" x2="215.55" y2="764" stroke="#555" stroke-width="0.9" />
<circle cx="208.5" cy="760.2" r="1.8" fill="#000"/>
<circle cx="208.5" cy="764.4" r="1.8" fill="#000"/>
<circle cx="216.4" cy="763.7" r="1.8" fill="#000"/>
<rect x="222.6" y="760.4185" width="11.0" height="4.0815000000000055" fill="#fde0ad" stroke="#222" stroke-width="0.9" />
<line x1="228.1" y1="756.6" x2="228.1" y2="764" stroke="#555" stroke-width="0.9" />
<line x1="224.6" y1="756.6" x2="231.6" y2="756.6" stroke="#555" stroke-width="0.9" />
<line x1="224.6" y1="764" x2="231.6" y2="764" stroke="#555" stroke-width="0.9" />
<circle cx="224.2" cy="756.6" r="1.8" fill="#000"/>
<circle cx="228.3" cy="763.7" r="1.8" fill="#000"/>
<circle cx="232.1" cy="759.7" r="1.8" fill="#000"/>
<line x1="49.9" y1="768.5" x2="77.9" y2="768.5" stroke="#222" stroke-width="1" />
<text x="63.9" y="777.5" font-size="9.8" text-anchor="middle" fill="#000" font-weight="normal" font-family="Liberation Sans" >0</text>
<line x1="88.9" y1="768.5" x2="116.9" y2="768.5" stroke="#222" stroke-width="1" />
<text x="102.9" y="777.5" font-size="9.8" text-anchor="middle" fill="#000" font-weight="normal" font-family="Liberation Sans" >0.01</text>
<line x1="128.3" y1="768.5" x2="156.3" y2="768.5" stroke="#222" stroke-width="1" />
<text x="142.3" y="777.5" font-size="9.8" text-anchor="middle" fill="#000" font-weight="normal" font-family="Liberation Sans" >0.02</text>
<line x1="167.4" y1="768.5" x2="195.4" y2="768.5" stroke="#222" stroke-width="1" />
<text x="181.4" y="777.5" font-size="9.8" text-anchor="middle" fill="#000" font-weight="normal" font-family="Liberation Sans" >0.1</text>
<line x1="206" y1="768.5" x2="234" y2="768.5" stroke="#222" stroke-width="1" />
<text x="220" y="777.5" font-size="9.8" text-anchor="middle" fill="#000" font-weight="normal" font-family="Liberation Sans" >1</text>
<text x="142.3" y="789.2" font-size="11.5" text-anchor="middle" fill="#000" font-weight="normal" font-family="Liberation Sans" >ANI (µg/ml)</text>
<text x="0" y="0" font-size="11.5" text-anchor="middle" fill="#000" font-weight="normal" font-family="Liberation Sans" transform="translate(15.6,710) rotate(-90)">fold change</text>
<text x="252.5" y="629.5" font-size="17" text-anchor="start" fill="#000" font-weight="bold" font-family="Liberation Sans" >g</text>
<text x="277.4" y="628.9" font-size="11" text-anchor="start" fill="#000" font-weight="normal" font-family="Liberation Sans" >proliferation</text>
<text x="398.9" y="628.9" font-size="11" text-anchor="middle" fill="#000" font-weight="normal" font-family="Liberation Sans" >untreated</text>
<line x1="361" y1="635" x2="435.9" y2="635" stroke="#444" stroke-width="0.9" />
<text x="483.5" y="628.9" font-size="11" text-anchor="middle" fill="#000" font-weight="normal" font-family="Liberation Sans" >ANI<tspan font-size="7" dy="3.2">0.02</tspan></text>
<line x1="445.5" y1="635" x2="520.6" y2="635" stroke="#444" stroke-width="0.9" />
<text x="351.6" y="648.5" font-size="9" text-anchor="start" fill="#808080" font-weight="normal" font-family="Liberation Sans" >p =</text>
<text x="366.5" y="648.4" font-size="9" text-anchor="start" fill="#808080" font-weight="normal" font-family="Liberation Sans" >0.36</text>
<path d="M366,653.0999999999999 L366,650.3 L429.6,650.3 L429.6,653.0999999999999" fill="none" stroke="#888" stroke-width="0.9"/>
<text x="366.5" y="661.1" font-size="9" text-anchor="start" fill="#808080" font-weight="normal" font-family="Liberation Sans" >0.050</text>
<path d="M366,665.8 L366,663 L409.4,663 L409.4,665.8" fill="none" stroke="#888" stroke-width="0.9"/>
<text x="366.5" y="672.4" font-size="9" text-anchor="start" fill="#808080" font-weight="normal" font-family="Liberation Sans" >0.081</text>
<path d="M366,677.0999999999999 L366,674.3 L388.4,674.3 L388.4,677.0999999999999" fill="none" stroke="#888" stroke-width="0.9"/>
<text x="451.4" y="648.4" font-size="9" text-anchor="start" fill="#808080" font-weight="normal" font-family="Liberation Sans" >0.037</text>
<path d="M450.9,653.0999999999999 L450.9,650.3 L513.7,650.3 L513.7,653.0999999999999" fill="none" stroke="#888" stroke-width="0.9"/>
<text x="451.4" y="661.1" font-size="9" text-anchor="start" fill="#808080" font-weight="normal" font-family="Liberation Sans" >0.0036</text>
<path d="M450.9,665.8 L450.9,663 L493.4,663 L493.4,665.8" fill="none" stroke="#888" stroke-width="0.9"/>
<text x="451.4" y="672.4" font-size="9" text-anchor="start" fill="#808080" font-weight="normal" font-family="Liberation Sans" >0.037</text>
<path d="M450.9,677.0999999999999 L450.9,674.3 L472.4,674.3 L472.4,677.0999999999999" fill="none" stroke="#888" stroke-width="0.9"/>
<line x1="353.5" y1="680" x2="353.5" y2="795.6" stroke="#222" stroke-width="1" />
<line x1="349.5" y1="790.5" x2="527.5" y2="790.5" stroke="#222" stroke-width="1" />
<line x1="349.5" y1="790.5" x2="353.5" y2="790.5" stroke="#222" stroke-width="0.8" />
<text x="348.3" y="793.8" font-size="9.3" text-anchor="end" fill="#000" font-weight="normal" font-family="Liberation Sans" >0</text>
<line x1="351.0" y1="776.8" x2="353.5" y2="776.8" stroke="#222" stroke-width="0.8" />
<line x1="349.5" y1="763.1" x2="353.5" y2="763.1" stroke="#222" stroke-width="0.8" />
<text x="348.3" y="766.4" font-size="9.3" text-anchor="end" fill="#000" font-weight="normal" font-family="Liberation Sans" >0.01</text>
<line x1="351.0" y1="749.4" x2="353.5" y2="749.4" stroke="#222" stroke-width="0.8" />
<line x1="349.5" y1="735.7" x2="353.5" y2="735.7" stroke="#222" stroke-width="0.8" />
<text x="348.3" y="739.0" font-size="9.3" text-anchor="end" fill="#000" font-weight="normal" font-family="Liberation Sans" >0.02</text>
<line x1="351.0" y1="722.0" x2="353.5" y2="722.0" stroke="#222" stroke-width="0.8" />
<line x1="349.5" y1="708.3" x2="353.5" y2="708.3" stroke="#222" stroke-width="0.8" />
<text x="348.3" y="711.5999999999999" font-size="9.3" text-anchor="end" fill="#000" font-weight="normal" font-family="Liberation Sans" >0.03</text>
<line x1="351.0" y1="694.6" x2="353.5" y2="694.6" stroke="#222" stroke-width="0.8" />
<line x1="349.5" y1="680.9" x2="353.5" y2="680.9" stroke="#222" stroke-width="0.8" />
<text x="348.3" y="684.1999999999999" font-size="9.3" text-anchor="end" fill="#000" font-weight="normal" font-family="Liberation Sans" >0.04</text>
<rect x="361.1" y="693.6" width="12.0" height="96.89999999999998" fill="#a9a9a9" stroke="#222" stroke-width="0.9" />
<line x1="367.1" y1="683.9" x2="367.1" y2="700.4" stroke="#333" stroke-width="0.9" />
<line x1="363.3" y1="683.9" x2="370.90000000000003" y2="683.9" stroke="#333" stroke-width="0.9" />
<line x1="363.3" y1="700.4" x2="370.90000000000003" y2="700.4" stroke="#333" stroke-width="0.9" />
<circle cx="367.4" cy="683.1" r="1.9" fill="#000"/>
<circle cx="362.7" cy="698.6" r="1.9" fill="#000"/>
<circle cx="371.7" cy="694.6" r="1.9" fill="#000"/>
<rect x="382" y="711.2" width="12.699999999999989" height="79.29999999999995" fill="#f3928b" stroke="#222" stroke-width="0.9" />
<line x1="388.35" y1="695.1" x2="388.35" y2="725.8" stroke="#333" stroke-width="0.9" />
<line x1="384.55" y1="695.1" x2="392.15000000000003" y2="695.1" stroke="#333" stroke-width="0.9" />
<line x1="384.55" y1="725.8" x2="392.15000000000003" y2="725.8" stroke="#333" stroke-width="0.9" />
<circle cx="383.3" cy="700.2" r="1.9" fill="#000"/>
<circle cx="388.3" cy="728.1" r="1.9" fill="#000"/>
<circle cx="392.8" cy="702.9" r="1.9" fill="#000"/>
<rect x="403.1" y="711.2" width="12.899999999999977" height="79.29999999999995" fill="#e3302a" stroke="#222" stroke-width="0.9" />
<line x1="409.55" y1="697.8" x2="409.55" y2="724.7" stroke="#333" stroke-width="0.9" />
<line x1="405.75" y1="697.8" x2="413.35" y2="697.8" stroke="#333" stroke-width="0.9" />
<line x1="405.75" y1="724.7" x2="413.35" y2="724.7" stroke="#333" stroke-width="0.9" />
<circle cx="409.3" cy="698" r="1.9" fill="#000"/>
<circle cx="409.3" cy="708.4" r="1.9" fill="#000"/>
<circle cx="409.3" cy="725.2" r="1.9" fill="#000"/>
<rect x="424" y="694.2" width="12.699999999999989" height="96.29999999999995" fill="#0e9de0" stroke="#222" stroke-width="0.9" />
<line x1="430.35" y1="688" x2="430.35" y2="698.3" stroke="#333" stroke-width="0.9" />
<line x1="426.55" y1="688" x2="434.15000000000003" y2="688" stroke="#333" stroke-width="0.9" />
<line x1="426.55" y1="698.3" x2="434.15000000000003" y2="698.3" stroke="#333" stroke-width="0.9" />
<circle cx="430.3" cy="688" r="1.9" fill="#000"/>
<circle cx="430.3" cy="693.4" r="1.9" fill="#000"/>
<circle cx="430.3" cy="698.3" r="1.9" fill="#000"/>
<rect x="445.1" y="751" width="12.099999999999966" height="39.5" fill="#a9a9a9" stroke="#222" stroke-width="0.9" />
<line x1="451.15" y1="730.2" x2="451.15" y2="770" stroke="#333" stroke-width="0.9" />
<line x1="447.34999999999997" y1="730.2" x2="454.95" y2="730.2" stroke="#333" stroke-width="0.9" />
<line x1="447.34999999999997" y1="770" x2="454.95" y2="770" stroke="#333" stroke-width="0.9" />
<circle cx="451.3" cy="727.7" r="1.9" fill="#000"/>
<circle cx="446.2" cy="762" r="1.9" fill="#000"/>
<circle cx="456" cy="760.5" r="1.9" fill="#000"/>
<rect x="465.9" y="773.3" width="12.400000000000034" height="17.200000000000045" fill="#f3928b" stroke="#222" stroke-width="0.9" />
<line x1="472.1" y1="753.9" x2="472.1" y2="790.4" stroke="#333" stroke-width="0.9" />
<line x1="468.3" y1="753.9" x2="475.90000000000003" y2="753.9" stroke="#333" stroke-width="0.9" />
<line x1="468.3" y1="790.4" x2="475.90000000000003" y2="790.4" stroke="#333" stroke-width="0.9" />
<circle cx="472.5" cy="753.9" r="1.9" fill="#000"/>
<circle cx="471.4" cy="770.4" r="1.9" fill="#000"/>
<circle cx="471.8" cy="793.4" r="1.9" fill="#000"/>
<rect x="486.7" y="777.7" width="12.400000000000034" height="12.799999999999955" fill="#e3302a" stroke="#222" stroke-width="0.9" />
<line x1="492.9" y1="757.6" x2="492.9" y2="795.9" stroke="#333" stroke-width="0.9" />
<line x1="489.09999999999997" y1="757.6" x2="496.7" y2="757.6" stroke="#333" stroke-width="0.9" />
<line x1="489.09999999999997" y1="795.9" x2="496.7" y2="795.9" stroke="#333" stroke-width="0.9" />
<circle cx="492.6" cy="756.5" r="1.9" fill="#000"/>
<circle cx="492.6" cy="783.1" r="1.9" fill="#000"/>
<circle cx="493.3" cy="793.4" r="1.9" fill="#000"/>
<rect x="507.5" y="755.8" width="12.5" height="34.700000000000045" fill="#0e9de0" stroke="#222" stroke-width="0.9" />
<line x1="513.75" y1="735.7" x2="513.75" y2="772.2" stroke="#333" stroke-width="0.9" />
<line x1="509.95" y1="735.7" x2="517.55" y2="735.7" stroke="#333" stroke-width="0.9" />
<line x1="509.95" y1="772.2" x2="517.55" y2="772.2" stroke="#333" stroke-width="0.9" />
<circle cx="514" cy="733.7" r="1.9" fill="#000"/>
<circle cx="509" cy="766.2" r="1.9" fill="#000"/>
<circle cx="518.6" cy="764.7" r="1.9" fill="#000"/>
<text x="0" y="0" font-size="11" text-anchor="middle" fill="#000" font-weight="normal" font-family="Liberation Sans" transform="translate(314.5,735.9) rotate(-90)">absolute</text>
<text x="0" y="0" font-size="11" text-anchor="middle" fill="#000" font-weight="normal" font-family="Liberation Sans" transform="translate(325.5,735.5) rotate(-90)">proliferation rate (1/h)</text>
<line x1="461.5" y1="751" x2="541.4" y2="691.9" stroke="#222" stroke-width="0.9" stroke-dasharray="4,3"/>
<line x1="529" y1="790.5" x2="553" y2="790.5" stroke="#222" stroke-width="1" stroke-dasharray="4,3"/>
<text x="639.2" y="629" font-size="11" text-anchor="middle" fill="#000" font-weight="normal" font-family="Liberation Sans" >ANI<tspan font-size="7" dy="3.2">0.02</tspan></text>
<line x1="602.4" y1="635" x2="677.6" y2="635" stroke="#444" stroke-width="0.9" />
<text x="640.4" y="648.5" font-size="8.2" text-anchor="middle" fill="#777" font-weight="normal" font-family="Liberation Sans" >normalized to</text>
<text x="640.4" y="656.5" font-size="8.2" text-anchor="middle" fill="#777" font-weight="normal" font-family="Liberation Sans" >parental</text>
<line x1="594.5" y1="683.6" x2="594.5" y2="795.6" stroke="#222" stroke-width="1" />
<line x1="592" y1="790.5" x2="685" y2="790.5" stroke="#222" stroke-width="1" />
<line x1="590.5" y1="790.5" x2="594.5" y2="790.5" stroke="#222" stroke-width="0.8" />
<text x="588.9" y="793.8" font-size="9.3" text-anchor="end" fill="#000" font-weight="normal" font-family="Liberation Sans" >0</text>
<line x1="591.0" y1="780.73" x2="594.5" y2="780.73" stroke="#222" stroke-width="0.8" />
<line x1="591.0" y1="770.96" x2="594.5" y2="770.96" stroke="#222" stroke-width="0.8" />
<line x1="591.0" y1="761.19" x2="594.5" y2="761.19" stroke="#222" stroke-width="0.8" />
<line x1="591.0" y1="751.42" x2="594.5" y2="751.42" stroke="#222" stroke-width="0.8" />
<line x1="590.5" y1="741.65" x2="594.5" y2="741.65" stroke="#222" stroke-width="0.8" />
<text x="588.9" y="744.9499999999999" font-size="9.3" text-anchor="end" fill="#000" font-weight="normal" font-family="Liberation Sans" >50</text>
<line x1="591.0" y1="731.88" x2="594.5" y2="731.88" stroke="#222" stroke-width="0.8" />
<line x1="591.0" y1="722.11" x2="594.5" y2="722.11" stroke="#222" stroke-width="0.8" />
<line x1="591.0" y1="712.34" x2="594.5" y2="712.34" stroke="#222" stroke-width="0.8" />
<line x1="591.0" y1="702.57" x2="594.5" y2="702.57" stroke="#222" stroke-width="0.8" />
<line x1="590.5" y1="692.8" x2="594.5" y2="692.8" stroke="#222" stroke-width="0.8" />
<text x="588.9" y="696.0999999999999" font-size="9.3" text-anchor="end" fill="#000" font-weight="normal" font-family="Liberation Sans" >100</text>
<rect x="602.2" y="693" width="13.299999999999955" height="97.5" fill="#a9a9a9" stroke="#222" stroke-width="0.9" />
<circle cx="604.3" cy="692.5" r="1.9" fill="#000"/>
<circle cx="609" cy="692.5" r="1.9" fill="#000"/>
<circle cx="614.1" cy="692.5" r="1.9" fill="#000"/>
<rect x="623.3" y="752.3" width="12.200000000000045" height="38.200000000000045" fill="#f3928b" stroke="#222" stroke-width="0.9" />
<line x1="629.4" y1="711.8" x2="629.4" y2="791.5" stroke="#333" stroke-width="0.9" />
<line x1="625.6" y1="711.8" x2="633.1999999999999" y2="711.8" stroke="#333" stroke-width="0.9" />
<line x1="625.6" y1="791.5" x2="633.1999999999999" y2="791.5" stroke="#333" stroke-width="0.9" />
<circle cx="629.2" cy="724" r="1.9" fill="#000"/>
<circle cx="629.2" cy="734.3" r="1.9" fill="#000"/>
<circle cx="629.2" cy="797.6" r="1.9" fill="#000"/>
<rect x="643.5" y="767.2" width="12.899999999999977" height="23.299999999999955" fill="#e3302a" stroke="#222" stroke-width="0.9" />
<line x1="649.95" y1="737.3" x2="649.95" y2="796" stroke="#333" stroke-width="0.9" />
<line x1="646.1500000000001" y1="737.3" x2="653.75" y2="737.3" stroke="#333" stroke-width="0.9" />
<line x1="646.1500000000001" y1="796" x2="653.75" y2="796" stroke="#333" stroke-width="0.9" />
<circle cx="649.8" cy="737.3" r="1.9" fill="#000"/>
<circle cx="649.8" cy="766" r="1.9" fill="#000"/>
<circle cx="649.8" cy="796" r="1.9" fill="#000"/>
<rect x="664.6" y="704.2" width="12.199999999999932" height="86.29999999999995" fill="#0e9de0" stroke="#222" stroke-width="0.9" />
<line x1="670.7" y1="698.1" x2="670.7" y2="709.7" stroke="#333" stroke-width="0.9" />
<line x1="666.9000000000001" y1="698.1" x2="674.5" y2="698.1" stroke="#333" stroke-width="0.9" />
<line x1="666.9000000000001" y1="709.7" x2="674.5" y2="709.7" stroke="#333" stroke-width="0.9" />
<circle cx="667.2" cy="699.1" r="1.9" fill="#000"/>
<circle cx="673.3" cy="701.6" r="1.9" fill="#000"/>
<circle cx="670.1" cy="709.7" r="1.9" fill="#000"/>
<text x="0" y="0" font-size="11.2" text-anchor="middle" fill="#000" font-weight="normal" font-family="Liberation Sans" transform="translate(556.5,737.9) rotate(-90)">normalized</text>
<text x="0" y="0" font-size="11.2" text-anchor="middle" fill="#000" font-weight="normal" font-family="Liberation Sans" transform="translate(567.2,737.3) rotate(-90)">proliferation rate (%)</text>
</svg></body></html>
